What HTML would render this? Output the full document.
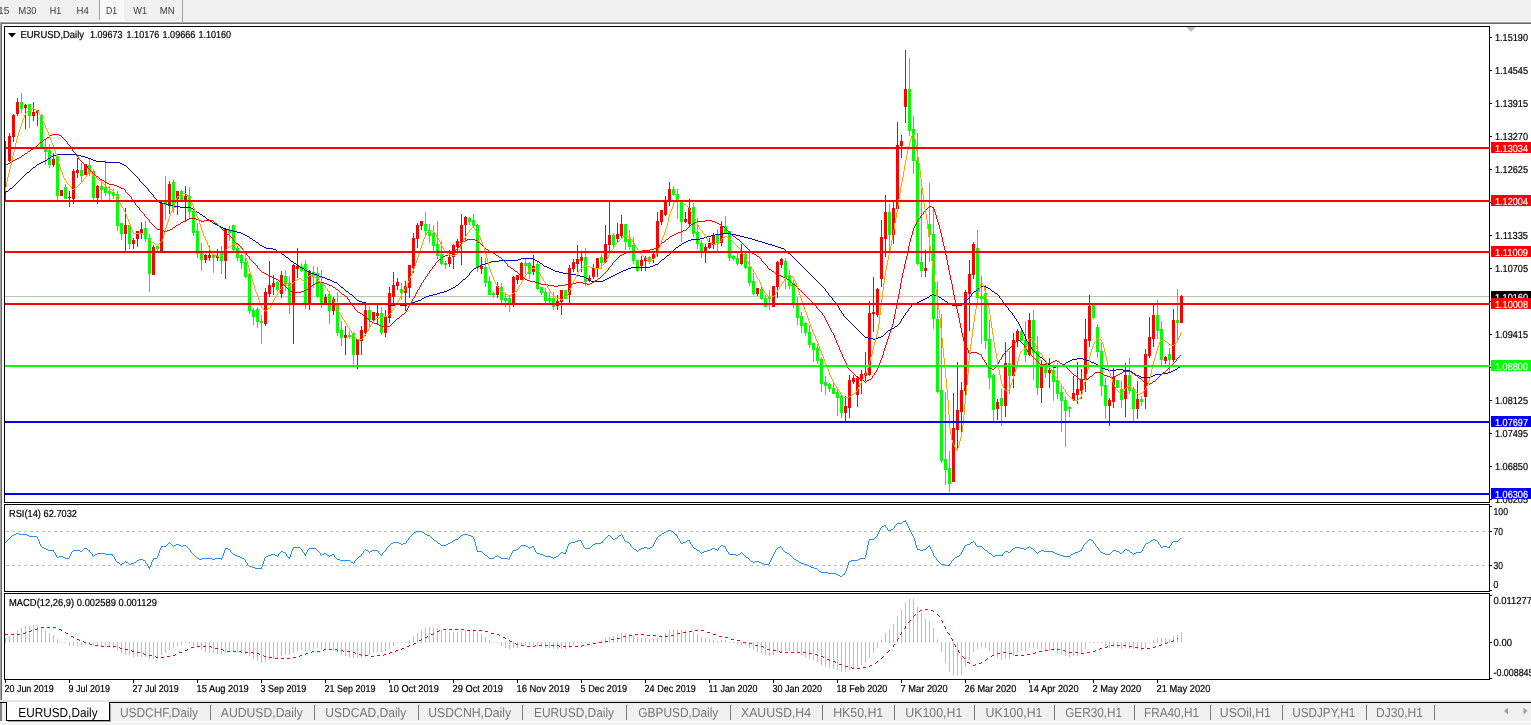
<!DOCTYPE html>
<html lang="en"><head><meta charset="utf-8"><title>EURUSD,Daily</title>
<style>html,body{margin:0;padding:0;background:#fff;overflow:hidden}body{width:1531px;height:725px}svg{display:block;font-family:"Liberation Sans",sans-serif;text-rendering:geometricPrecision}</style>
</head><body>
<svg width="1531" height="725" viewBox="0 0 1531 725" shape-rendering="crispEdges">
<rect x="0" y="0" width="1531" height="725" fill="#fff"/>
<g id="toolbar">
<rect x="0" y="0" width="1531" height="22" fill="#f0f0f0"/>
<rect x="0" y="21" width="1531" height="1" fill="#f6f6f6"/>
<rect x="0" y="22" width="1531" height="1" fill="#a0a0a0"/>
<rect x="0" y="23" width="1531" height="1" fill="#696969"/>
<rect x="100" y="0" width="24" height="20" fill="#f8f8f8"/>
<rect x="99" y="20" width="26" height="1" fill="#fcfcfc"/>
<rect x="99" y="0" width="1" height="20" fill="#a0a0a0"/>
<rect x="182" y="0" width="1" height="22" fill="#a0a0a0"/>
<text x="-10.5" y="14" font-size="10.2" fill="#3c3c3c">M15</text>
<text x="18.5" y="14" font-size="10.2" fill="#3c3c3c" textLength="18" lengthAdjust="spacingAndGlyphs">M30</text>
<text x="49.7" y="14" font-size="10.2" fill="#3c3c3c" textLength="11.5" lengthAdjust="spacingAndGlyphs">H1</text>
<text x="76.5" y="14" font-size="10.2" fill="#3c3c3c" textLength="12.3" lengthAdjust="spacingAndGlyphs">H4</text>
<text x="105.9" y="14" font-size="10.2" fill="#3c3c3c" textLength="11.2" lengthAdjust="spacingAndGlyphs">D1</text>
<text x="133.3" y="14" font-size="10.2" fill="#3c3c3c" textLength="13.8" lengthAdjust="spacingAndGlyphs">W1</text>
<text x="159.8" y="14" font-size="10.2" fill="#3c3c3c" textLength="14.8" lengthAdjust="spacingAndGlyphs">MN</text>
</g>
<rect x="0" y="22" width="1" height="678" fill="#a0a0a0"/>
<rect x="1" y="23" width="1" height="677" fill="#696969"/>
<g id="frames">
<rect x="4" y="26" width="1486" height="1" fill="#000"/>
<rect x="4" y="502" width="1486" height="1" fill="#000"/>
<rect x="4" y="26" width="1" height="477" fill="#000"/>
<rect x="1489" y="26" width="1" height="477" fill="#000"/>
<rect x="4" y="504" width="1486" height="1" fill="#000"/>
<rect x="4" y="591" width="1486" height="1" fill="#000"/>
<rect x="4" y="504" width="1" height="88" fill="#000"/>
<rect x="1489" y="504" width="1" height="88" fill="#000"/>
<rect x="4" y="593" width="1486" height="1" fill="#000"/>
<rect x="4" y="679" width="1486" height="1" fill="#000"/>
<rect x="4" y="593" width="1" height="87" fill="#000"/>
<rect x="1489" y="593" width="1" height="87" fill="#000"/>
</g>
<polygon points="1186,27 1196,27 1191,32" fill="#c0c0c0" shape-rendering="auto"/>
<g id="main">
<rect x="5" y="296" width="1484" height="1" fill="#c0c0c0"/>
<rect x="5" y="141" width="1" height="59" fill="#ff0000"/>
<rect x="5" y="141" width="1" height="59" fill="#ff0000"/>
<rect x="9" y="133" width="1" height="29" fill="#ff0000"/>
<rect x="8" y="136" width="3" height="25" fill="#ff0000"/>
<rect x="13" y="114" width="1" height="28" fill="#ff0000"/>
<rect x="12" y="115" width="3" height="22" fill="#ff0000"/>
<rect x="17" y="98" width="1" height="18" fill="#ff0000"/>
<rect x="16" y="102" width="3" height="12" fill="#ff0000"/>
<rect x="21" y="93" width="1" height="20" fill="#00ff00"/>
<rect x="20" y="102" width="3" height="7" fill="#00ff00"/>
<rect x="25" y="104" width="1" height="25" fill="#ff0000"/>
<rect x="24" y="105" width="3" height="3" fill="#ff0000"/>
<rect x="29" y="104" width="1" height="24" fill="#00ff00"/>
<rect x="28" y="104" width="3" height="12" fill="#00ff00"/>
<rect x="33" y="102" width="1" height="19" fill="#ff0000"/>
<rect x="32" y="112" width="3" height="4" fill="#ff0000"/>
<rect x="37" y="110" width="1" height="16" fill="#ff0000"/>
<rect x="36" y="110" width="3" height="3" fill="#ff0000"/>
<rect x="41" y="114" width="1" height="34" fill="#00ff00"/>
<rect x="40" y="115" width="3" height="32" fill="#00ff00"/>
<rect x="45" y="140" width="1" height="25" fill="#00ff00"/>
<rect x="44" y="148" width="3" height="4" fill="#00ff00"/>
<rect x="49" y="144" width="1" height="24" fill="#00ff00"/>
<rect x="48" y="150" width="3" height="15" fill="#00ff00"/>
<rect x="53" y="153" width="1" height="14" fill="#ff0000"/>
<rect x="52" y="159" width="3" height="6" fill="#ff0000"/>
<rect x="57" y="156" width="1" height="44" fill="#00ff00"/>
<rect x="56" y="156" width="3" height="40" fill="#00ff00"/>
<rect x="61" y="190" width="1" height="6" fill="#ff0000"/>
<rect x="60" y="190" width="3" height="6" fill="#ff0000"/>
<rect x="65" y="184" width="1" height="15" fill="#00ff00"/>
<rect x="64" y="187" width="3" height="12" fill="#00ff00"/>
<rect x="69" y="191" width="1" height="16" fill="#ff0000"/>
<rect x="68" y="197" width="3" height="1" fill="#ff0000"/>
<rect x="73" y="169" width="1" height="35" fill="#ff0000"/>
<rect x="72" y="171" width="3" height="28" fill="#ff0000"/>
<rect x="77" y="158" width="1" height="20" fill="#ff0000"/>
<rect x="76" y="170" width="3" height="3" fill="#ff0000"/>
<rect x="81" y="163" width="1" height="20" fill="#00ff00"/>
<rect x="80" y="170" width="3" height="6" fill="#00ff00"/>
<rect x="85" y="164" width="1" height="11" fill="#ff0000"/>
<rect x="84" y="164" width="3" height="11" fill="#ff0000"/>
<rect x="89" y="159" width="1" height="17" fill="#00ff00"/>
<rect x="88" y="165" width="3" height="7" fill="#00ff00"/>
<rect x="93" y="169" width="1" height="31" fill="#00ff00"/>
<rect x="92" y="171" width="3" height="27" fill="#00ff00"/>
<rect x="97" y="185" width="1" height="19" fill="#ff0000"/>
<rect x="96" y="186" width="3" height="12" fill="#ff0000"/>
<rect x="101" y="179" width="1" height="22" fill="#00ff00"/>
<rect x="100" y="186" width="3" height="4" fill="#00ff00"/>
<rect x="105" y="160" width="1" height="36" fill="#00ff00"/>
<rect x="104" y="187" width="3" height="6" fill="#00ff00"/>
<rect x="109" y="186" width="1" height="15" fill="#00ff00"/>
<rect x="108" y="191" width="3" height="3" fill="#00ff00"/>
<rect x="113" y="189" width="1" height="10" fill="#00ff00"/>
<rect x="112" y="192" width="3" height="4" fill="#00ff00"/>
<rect x="117" y="191" width="1" height="40" fill="#00ff00"/>
<rect x="116" y="194" width="3" height="32" fill="#00ff00"/>
<rect x="121" y="223" width="1" height="17" fill="#00ff00"/>
<rect x="120" y="223" width="3" height="11" fill="#00ff00"/>
<rect x="125" y="208" width="1" height="44" fill="#ff0000"/>
<rect x="124" y="225" width="3" height="9" fill="#ff0000"/>
<rect x="129" y="225" width="1" height="24" fill="#00ff00"/>
<rect x="128" y="225" width="3" height="19" fill="#00ff00"/>
<rect x="133" y="238" width="1" height="11" fill="#ff0000"/>
<rect x="132" y="240" width="3" height="4" fill="#ff0000"/>
<rect x="137" y="231" width="1" height="16" fill="#ff0000"/>
<rect x="136" y="231" width="3" height="8" fill="#ff0000"/>
<rect x="141" y="222" width="1" height="17" fill="#ff0000"/>
<rect x="140" y="229" width="3" height="4" fill="#ff0000"/>
<rect x="145" y="221" width="1" height="21" fill="#00ff00"/>
<rect x="144" y="228" width="3" height="11" fill="#00ff00"/>
<rect x="149" y="234" width="1" height="58" fill="#00ff00"/>
<rect x="148" y="238" width="3" height="36" fill="#00ff00"/>
<rect x="153" y="245" width="1" height="30" fill="#ff0000"/>
<rect x="152" y="247" width="3" height="28" fill="#ff0000"/>
<rect x="157" y="245" width="1" height="7" fill="#00ff00"/>
<rect x="156" y="246" width="3" height="3" fill="#00ff00"/>
<rect x="161" y="202" width="1" height="51" fill="#ff0000"/>
<rect x="160" y="203" width="3" height="49" fill="#ff0000"/>
<rect x="165" y="176" width="1" height="44" fill="#00ff00"/>
<rect x="164" y="202" width="3" height="3" fill="#00ff00"/>
<rect x="169" y="181" width="1" height="33" fill="#ff0000"/>
<rect x="168" y="184" width="3" height="22" fill="#ff0000"/>
<rect x="173" y="180" width="1" height="33" fill="#00ff00"/>
<rect x="172" y="182" width="3" height="26" fill="#00ff00"/>
<rect x="177" y="191" width="1" height="24" fill="#ff0000"/>
<rect x="176" y="191" width="3" height="8" fill="#ff0000"/>
<rect x="181" y="190" width="1" height="11" fill="#00ff00"/>
<rect x="180" y="191" width="3" height="10" fill="#00ff00"/>
<rect x="185" y="186" width="1" height="36" fill="#ff0000"/>
<rect x="184" y="196" width="3" height="5" fill="#ff0000"/>
<rect x="189" y="187" width="1" height="32" fill="#00ff00"/>
<rect x="188" y="196" width="3" height="16" fill="#00ff00"/>
<rect x="193" y="210" width="1" height="26" fill="#00ff00"/>
<rect x="192" y="211" width="3" height="22" fill="#00ff00"/>
<rect x="197" y="223" width="1" height="35" fill="#00ff00"/>
<rect x="196" y="231" width="3" height="23" fill="#00ff00"/>
<rect x="201" y="243" width="1" height="28" fill="#00ff00"/>
<rect x="200" y="252" width="3" height="8" fill="#00ff00"/>
<rect x="205" y="254" width="1" height="9" fill="#ff0000"/>
<rect x="204" y="255" width="3" height="5" fill="#ff0000"/>
<rect x="209" y="246" width="1" height="15" fill="#ff0000"/>
<rect x="208" y="255" width="3" height="3" fill="#ff0000"/>
<rect x="213" y="254" width="1" height="19" fill="#00ff00"/>
<rect x="212" y="255" width="3" height="3" fill="#00ff00"/>
<rect x="217" y="249" width="1" height="12" fill="#ff0000"/>
<rect x="216" y="256" width="3" height="2" fill="#ff0000"/>
<rect x="221" y="246" width="1" height="28" fill="#00ff00"/>
<rect x="220" y="252" width="3" height="9" fill="#00ff00"/>
<rect x="225" y="228" width="1" height="51" fill="#ff0000"/>
<rect x="224" y="229" width="3" height="32" fill="#ff0000"/>
<rect x="229" y="226" width="1" height="15" fill="#00ff00"/>
<rect x="228" y="230" width="3" height="3" fill="#00ff00"/>
<rect x="233" y="225" width="1" height="26" fill="#00ff00"/>
<rect x="232" y="225" width="3" height="25" fill="#00ff00"/>
<rect x="237" y="246" width="1" height="15" fill="#00ff00"/>
<rect x="236" y="248" width="3" height="10" fill="#00ff00"/>
<rect x="241" y="254" width="1" height="15" fill="#00ff00"/>
<rect x="240" y="255" width="3" height="8" fill="#00ff00"/>
<rect x="245" y="253" width="1" height="25" fill="#00ff00"/>
<rect x="244" y="262" width="3" height="15" fill="#00ff00"/>
<rect x="249" y="273" width="1" height="41" fill="#00ff00"/>
<rect x="248" y="274" width="3" height="37" fill="#00ff00"/>
<rect x="253" y="308" width="1" height="17" fill="#00ff00"/>
<rect x="252" y="310" width="3" height="7" fill="#00ff00"/>
<rect x="257" y="307" width="1" height="21" fill="#00ff00"/>
<rect x="256" y="309" width="3" height="13" fill="#00ff00"/>
<rect x="261" y="315" width="1" height="29" fill="#00ff00"/>
<rect x="260" y="321" width="3" height="2" fill="#00ff00"/>
<rect x="265" y="288" width="1" height="38" fill="#ff0000"/>
<rect x="264" y="292" width="3" height="32" fill="#ff0000"/>
<rect x="269" y="261" width="1" height="36" fill="#ff0000"/>
<rect x="268" y="285" width="3" height="9" fill="#ff0000"/>
<rect x="273" y="275" width="1" height="20" fill="#ff0000"/>
<rect x="272" y="283" width="3" height="4" fill="#ff0000"/>
<rect x="277" y="281" width="1" height="11" fill="#00ff00"/>
<rect x="276" y="282" width="3" height="8" fill="#00ff00"/>
<rect x="281" y="271" width="1" height="27" fill="#ff0000"/>
<rect x="280" y="275" width="3" height="19" fill="#ff0000"/>
<rect x="285" y="270" width="1" height="21" fill="#00ff00"/>
<rect x="284" y="276" width="3" height="8" fill="#00ff00"/>
<rect x="289" y="276" width="1" height="38" fill="#00ff00"/>
<rect x="288" y="283" width="3" height="21" fill="#00ff00"/>
<rect x="293" y="264" width="1" height="80" fill="#ff0000"/>
<rect x="292" y="265" width="3" height="39" fill="#ff0000"/>
<rect x="297" y="248" width="1" height="30" fill="#ff0000"/>
<rect x="296" y="266" width="3" height="3" fill="#ff0000"/>
<rect x="301" y="263" width="1" height="9" fill="#00ff00"/>
<rect x="300" y="266" width="3" height="5" fill="#00ff00"/>
<rect x="305" y="260" width="1" height="49" fill="#00ff00"/>
<rect x="304" y="264" width="3" height="39" fill="#00ff00"/>
<rect x="309" y="270" width="1" height="40" fill="#ff0000"/>
<rect x="308" y="271" width="3" height="32" fill="#ff0000"/>
<rect x="313" y="266" width="1" height="22" fill="#00ff00"/>
<rect x="312" y="272" width="3" height="4" fill="#00ff00"/>
<rect x="317" y="267" width="1" height="31" fill="#00ff00"/>
<rect x="316" y="273" width="3" height="24" fill="#00ff00"/>
<rect x="321" y="270" width="1" height="38" fill="#00ff00"/>
<rect x="320" y="282" width="3" height="22" fill="#00ff00"/>
<rect x="325" y="294" width="1" height="11" fill="#ff0000"/>
<rect x="324" y="297" width="3" height="8" fill="#ff0000"/>
<rect x="329" y="291" width="1" height="33" fill="#00ff00"/>
<rect x="328" y="294" width="3" height="17" fill="#00ff00"/>
<rect x="333" y="297" width="1" height="18" fill="#ff0000"/>
<rect x="332" y="299" width="3" height="12" fill="#ff0000"/>
<rect x="337" y="292" width="1" height="44" fill="#00ff00"/>
<rect x="336" y="305" width="3" height="28" fill="#00ff00"/>
<rect x="341" y="321" width="1" height="25" fill="#00ff00"/>
<rect x="340" y="330" width="3" height="8" fill="#00ff00"/>
<rect x="345" y="326" width="1" height="29" fill="#ff0000"/>
<rect x="344" y="335" width="3" height="3" fill="#ff0000"/>
<rect x="349" y="331" width="1" height="8" fill="#00ff00"/>
<rect x="348" y="335" width="3" height="2" fill="#00ff00"/>
<rect x="353" y="332" width="1" height="34" fill="#00ff00"/>
<rect x="352" y="333" width="3" height="22" fill="#00ff00"/>
<rect x="357" y="339" width="1" height="30" fill="#ff0000"/>
<rect x="356" y="339" width="3" height="16" fill="#ff0000"/>
<rect x="361" y="326" width="1" height="29" fill="#ff0000"/>
<rect x="360" y="330" width="3" height="11" fill="#ff0000"/>
<rect x="365" y="304" width="1" height="32" fill="#ff0000"/>
<rect x="364" y="310" width="3" height="23" fill="#ff0000"/>
<rect x="369" y="306" width="1" height="23" fill="#00ff00"/>
<rect x="368" y="310" width="3" height="10" fill="#00ff00"/>
<rect x="373" y="312" width="1" height="9" fill="#ff0000"/>
<rect x="372" y="312" width="3" height="8" fill="#ff0000"/>
<rect x="377" y="304" width="1" height="21" fill="#ff0000"/>
<rect x="376" y="313" width="3" height="3" fill="#ff0000"/>
<rect x="381" y="307" width="1" height="28" fill="#00ff00"/>
<rect x="380" y="313" width="3" height="20" fill="#00ff00"/>
<rect x="385" y="310" width="1" height="27" fill="#ff0000"/>
<rect x="384" y="317" width="3" height="16" fill="#ff0000"/>
<rect x="389" y="287" width="1" height="36" fill="#ff0000"/>
<rect x="388" y="293" width="3" height="25" fill="#ff0000"/>
<rect x="393" y="272" width="1" height="31" fill="#ff0000"/>
<rect x="392" y="285" width="3" height="12" fill="#ff0000"/>
<rect x="397" y="278" width="1" height="12" fill="#ff0000"/>
<rect x="396" y="282" width="3" height="4" fill="#ff0000"/>
<rect x="401" y="283" width="1" height="17" fill="#00ff00"/>
<rect x="400" y="289" width="3" height="4" fill="#00ff00"/>
<rect x="405" y="281" width="1" height="30" fill="#ff0000"/>
<rect x="404" y="286" width="3" height="7" fill="#ff0000"/>
<rect x="409" y="265" width="1" height="33" fill="#ff0000"/>
<rect x="408" y="265" width="3" height="23" fill="#ff0000"/>
<rect x="413" y="233" width="1" height="40" fill="#ff0000"/>
<rect x="412" y="238" width="3" height="30" fill="#ff0000"/>
<rect x="417" y="223" width="1" height="25" fill="#ff0000"/>
<rect x="416" y="225" width="3" height="14" fill="#ff0000"/>
<rect x="421" y="221" width="1" height="9" fill="#ff0000"/>
<rect x="420" y="221" width="3" height="5" fill="#ff0000"/>
<rect x="425" y="212" width="1" height="23" fill="#00ff00"/>
<rect x="424" y="224" width="3" height="7" fill="#00ff00"/>
<rect x="429" y="224" width="1" height="19" fill="#00ff00"/>
<rect x="428" y="230" width="3" height="6" fill="#00ff00"/>
<rect x="433" y="225" width="1" height="27" fill="#00ff00"/>
<rect x="432" y="233" width="3" height="13" fill="#00ff00"/>
<rect x="437" y="221" width="1" height="38" fill="#00ff00"/>
<rect x="436" y="244" width="3" height="12" fill="#00ff00"/>
<rect x="441" y="241" width="1" height="24" fill="#00ff00"/>
<rect x="440" y="254" width="3" height="10" fill="#00ff00"/>
<rect x="445" y="261" width="1" height="8" fill="#00ff00"/>
<rect x="444" y="263" width="3" height="2" fill="#00ff00"/>
<rect x="449" y="250" width="1" height="17" fill="#ff0000"/>
<rect x="448" y="257" width="3" height="7" fill="#ff0000"/>
<rect x="453" y="244" width="1" height="25" fill="#ff0000"/>
<rect x="452" y="245" width="3" height="12" fill="#ff0000"/>
<rect x="457" y="239" width="1" height="12" fill="#ff0000"/>
<rect x="456" y="241" width="3" height="6" fill="#ff0000"/>
<rect x="461" y="214" width="1" height="51" fill="#ff0000"/>
<rect x="460" y="225" width="3" height="18" fill="#ff0000"/>
<rect x="465" y="216" width="1" height="25" fill="#ff0000"/>
<rect x="464" y="217" width="3" height="8" fill="#ff0000"/>
<rect x="469" y="217" width="1" height="8" fill="#00ff00"/>
<rect x="468" y="218" width="3" height="4" fill="#00ff00"/>
<rect x="473" y="214" width="1" height="13" fill="#00ff00"/>
<rect x="472" y="220" width="3" height="6" fill="#00ff00"/>
<rect x="477" y="224" width="1" height="48" fill="#00ff00"/>
<rect x="476" y="225" width="3" height="43" fill="#00ff00"/>
<rect x="481" y="257" width="1" height="17" fill="#ff0000"/>
<rect x="480" y="266" width="3" height="3" fill="#ff0000"/>
<rect x="485" y="258" width="1" height="29" fill="#00ff00"/>
<rect x="484" y="267" width="3" height="16" fill="#00ff00"/>
<rect x="489" y="276" width="1" height="19" fill="#00ff00"/>
<rect x="488" y="281" width="3" height="14" fill="#00ff00"/>
<rect x="493" y="292" width="1" height="6" fill="#00ff00"/>
<rect x="492" y="293" width="3" height="2" fill="#00ff00"/>
<rect x="497" y="282" width="1" height="16" fill="#ff0000"/>
<rect x="496" y="286" width="3" height="9" fill="#ff0000"/>
<rect x="501" y="283" width="1" height="21" fill="#00ff00"/>
<rect x="500" y="287" width="3" height="13" fill="#00ff00"/>
<rect x="505" y="294" width="1" height="13" fill="#00ff00"/>
<rect x="504" y="298" width="3" height="3" fill="#00ff00"/>
<rect x="509" y="296" width="1" height="16" fill="#00ff00"/>
<rect x="508" y="298" width="3" height="6" fill="#00ff00"/>
<rect x="513" y="276" width="1" height="31" fill="#ff0000"/>
<rect x="512" y="277" width="3" height="28" fill="#ff0000"/>
<rect x="517" y="275" width="1" height="9" fill="#ff0000"/>
<rect x="516" y="275" width="3" height="5" fill="#ff0000"/>
<rect x="521" y="262" width="1" height="18" fill="#ff0000"/>
<rect x="520" y="263" width="3" height="17" fill="#ff0000"/>
<rect x="525" y="258" width="1" height="16" fill="#00ff00"/>
<rect x="524" y="263" width="3" height="3" fill="#00ff00"/>
<rect x="529" y="262" width="1" height="17" fill="#00ff00"/>
<rect x="528" y="263" width="3" height="11" fill="#00ff00"/>
<rect x="533" y="255" width="1" height="20" fill="#ff0000"/>
<rect x="532" y="266" width="3" height="6" fill="#ff0000"/>
<rect x="537" y="261" width="1" height="29" fill="#00ff00"/>
<rect x="536" y="264" width="3" height="25" fill="#00ff00"/>
<rect x="541" y="287" width="1" height="8" fill="#00ff00"/>
<rect x="540" y="287" width="3" height="6" fill="#00ff00"/>
<rect x="545" y="288" width="1" height="16" fill="#00ff00"/>
<rect x="544" y="292" width="3" height="9" fill="#00ff00"/>
<rect x="549" y="292" width="1" height="12" fill="#00ff00"/>
<rect x="548" y="298" width="3" height="3" fill="#00ff00"/>
<rect x="553" y="292" width="1" height="18" fill="#00ff00"/>
<rect x="552" y="298" width="3" height="9" fill="#00ff00"/>
<rect x="557" y="295" width="1" height="15" fill="#ff0000"/>
<rect x="556" y="301" width="3" height="5" fill="#ff0000"/>
<rect x="561" y="290" width="1" height="25" fill="#ff0000"/>
<rect x="560" y="290" width="3" height="12" fill="#ff0000"/>
<rect x="565" y="290" width="1" height="9" fill="#00ff00"/>
<rect x="564" y="290" width="3" height="9" fill="#00ff00"/>
<rect x="569" y="265" width="1" height="39" fill="#ff0000"/>
<rect x="568" y="268" width="3" height="27" fill="#ff0000"/>
<rect x="573" y="259" width="1" height="13" fill="#ff0000"/>
<rect x="572" y="262" width="3" height="7" fill="#ff0000"/>
<rect x="577" y="245" width="1" height="27" fill="#ff0000"/>
<rect x="576" y="259" width="3" height="5" fill="#ff0000"/>
<rect x="581" y="253" width="1" height="19" fill="#ff0000"/>
<rect x="580" y="257" width="3" height="4" fill="#ff0000"/>
<rect x="585" y="248" width="1" height="38" fill="#00ff00"/>
<rect x="584" y="257" width="3" height="25" fill="#00ff00"/>
<rect x="589" y="275" width="1" height="7" fill="#ff0000"/>
<rect x="588" y="278" width="3" height="3" fill="#ff0000"/>
<rect x="593" y="264" width="1" height="15" fill="#ff0000"/>
<rect x="592" y="268" width="3" height="9" fill="#ff0000"/>
<rect x="597" y="258" width="1" height="19" fill="#ff0000"/>
<rect x="596" y="258" width="3" height="11" fill="#ff0000"/>
<rect x="601" y="254" width="1" height="15" fill="#00ff00"/>
<rect x="600" y="257" width="3" height="6" fill="#00ff00"/>
<rect x="605" y="225" width="1" height="38" fill="#ff0000"/>
<rect x="604" y="244" width="3" height="18" fill="#ff0000"/>
<rect x="609" y="202" width="1" height="51" fill="#ff0000"/>
<rect x="608" y="235" width="3" height="10" fill="#ff0000"/>
<rect x="613" y="233" width="1" height="16" fill="#00ff00"/>
<rect x="612" y="235" width="3" height="10" fill="#00ff00"/>
<rect x="617" y="223" width="1" height="19" fill="#ff0000"/>
<rect x="616" y="234" width="3" height="5" fill="#ff0000"/>
<rect x="621" y="215" width="1" height="24" fill="#ff0000"/>
<rect x="620" y="224" width="3" height="12" fill="#ff0000"/>
<rect x="625" y="224" width="1" height="26" fill="#00ff00"/>
<rect x="624" y="224" width="3" height="18" fill="#00ff00"/>
<rect x="629" y="230" width="1" height="20" fill="#00ff00"/>
<rect x="628" y="239" width="3" height="8" fill="#00ff00"/>
<rect x="633" y="237" width="1" height="27" fill="#00ff00"/>
<rect x="632" y="245" width="3" height="16" fill="#00ff00"/>
<rect x="637" y="260" width="1" height="12" fill="#00ff00"/>
<rect x="636" y="260" width="3" height="11" fill="#00ff00"/>
<rect x="641" y="256" width="1" height="15" fill="#ff0000"/>
<rect x="640" y="260" width="3" height="6" fill="#ff0000"/>
<rect x="645" y="256" width="1" height="15" fill="#ff0000"/>
<rect x="644" y="258" width="3" height="3" fill="#ff0000"/>
<rect x="649" y="256" width="1" height="8" fill="#00ff00"/>
<rect x="648" y="257" width="3" height="5" fill="#00ff00"/>
<rect x="653" y="253" width="1" height="10" fill="#ff0000"/>
<rect x="652" y="254" width="3" height="5" fill="#ff0000"/>
<rect x="657" y="212" width="1" height="45" fill="#ff0000"/>
<rect x="656" y="221" width="3" height="31" fill="#ff0000"/>
<rect x="661" y="210" width="1" height="15" fill="#ff0000"/>
<rect x="660" y="210" width="3" height="12" fill="#ff0000"/>
<rect x="665" y="196" width="1" height="20" fill="#ff0000"/>
<rect x="664" y="201" width="3" height="14" fill="#ff0000"/>
<rect x="669" y="182" width="1" height="24" fill="#ff0000"/>
<rect x="668" y="189" width="3" height="13" fill="#ff0000"/>
<rect x="673" y="186" width="1" height="10" fill="#00ff00"/>
<rect x="672" y="189" width="3" height="6" fill="#00ff00"/>
<rect x="677" y="189" width="1" height="30" fill="#00ff00"/>
<rect x="676" y="194" width="3" height="6" fill="#00ff00"/>
<rect x="681" y="202" width="1" height="40" fill="#00ff00"/>
<rect x="680" y="202" width="3" height="20" fill="#00ff00"/>
<rect x="685" y="212" width="1" height="11" fill="#ff0000"/>
<rect x="684" y="219" width="3" height="3" fill="#ff0000"/>
<rect x="689" y="199" width="1" height="27" fill="#ff0000"/>
<rect x="688" y="208" width="3" height="16" fill="#ff0000"/>
<rect x="693" y="203" width="1" height="34" fill="#00ff00"/>
<rect x="692" y="207" width="3" height="27" fill="#00ff00"/>
<rect x="697" y="218" width="1" height="31" fill="#00ff00"/>
<rect x="696" y="232" width="3" height="12" fill="#00ff00"/>
<rect x="701" y="240" width="1" height="18" fill="#00ff00"/>
<rect x="700" y="243" width="3" height="9" fill="#00ff00"/>
<rect x="705" y="244" width="1" height="19" fill="#ff0000"/>
<rect x="704" y="247" width="3" height="6" fill="#ff0000"/>
<rect x="709" y="238" width="1" height="11" fill="#ff0000"/>
<rect x="708" y="243" width="3" height="5" fill="#ff0000"/>
<rect x="713" y="233" width="1" height="16" fill="#ff0000"/>
<rect x="712" y="236" width="3" height="9" fill="#ff0000"/>
<rect x="717" y="229" width="1" height="23" fill="#00ff00"/>
<rect x="716" y="235" width="3" height="9" fill="#00ff00"/>
<rect x="721" y="221" width="1" height="25" fill="#ff0000"/>
<rect x="720" y="226" width="3" height="17" fill="#ff0000"/>
<rect x="725" y="216" width="1" height="18" fill="#00ff00"/>
<rect x="724" y="226" width="3" height="7" fill="#00ff00"/>
<rect x="729" y="231" width="1" height="30" fill="#00ff00"/>
<rect x="728" y="231" width="3" height="27" fill="#00ff00"/>
<rect x="733" y="255" width="1" height="6" fill="#00ff00"/>
<rect x="732" y="256" width="3" height="3" fill="#00ff00"/>
<rect x="737" y="253" width="1" height="13" fill="#00ff00"/>
<rect x="736" y="258" width="3" height="6" fill="#00ff00"/>
<rect x="741" y="244" width="1" height="21" fill="#ff0000"/>
<rect x="740" y="254" width="3" height="10" fill="#ff0000"/>
<rect x="745" y="253" width="1" height="16" fill="#00ff00"/>
<rect x="744" y="254" width="3" height="14" fill="#00ff00"/>
<rect x="749" y="249" width="1" height="37" fill="#00ff00"/>
<rect x="748" y="267" width="3" height="16" fill="#00ff00"/>
<rect x="753" y="273" width="1" height="22" fill="#00ff00"/>
<rect x="752" y="281" width="3" height="13" fill="#00ff00"/>
<rect x="757" y="288" width="1" height="8" fill="#ff0000"/>
<rect x="756" y="288" width="3" height="6" fill="#ff0000"/>
<rect x="761" y="287" width="1" height="13" fill="#00ff00"/>
<rect x="760" y="289" width="3" height="10" fill="#00ff00"/>
<rect x="765" y="295" width="1" height="12" fill="#00ff00"/>
<rect x="764" y="298" width="3" height="9" fill="#00ff00"/>
<rect x="769" y="290" width="1" height="20" fill="#00ff00"/>
<rect x="768" y="297" width="3" height="2" fill="#00ff00"/>
<rect x="773" y="286" width="1" height="21" fill="#ff0000"/>
<rect x="772" y="286" width="3" height="21" fill="#ff0000"/>
<rect x="777" y="261" width="1" height="37" fill="#ff0000"/>
<rect x="776" y="262" width="3" height="25" fill="#ff0000"/>
<rect x="781" y="258" width="1" height="10" fill="#ff0000"/>
<rect x="780" y="259" width="3" height="6" fill="#ff0000"/>
<rect x="785" y="258" width="1" height="31" fill="#00ff00"/>
<rect x="784" y="261" width="3" height="17" fill="#00ff00"/>
<rect x="789" y="270" width="1" height="19" fill="#00ff00"/>
<rect x="788" y="276" width="3" height="10" fill="#00ff00"/>
<rect x="793" y="280" width="1" height="28" fill="#00ff00"/>
<rect x="792" y="283" width="3" height="21" fill="#00ff00"/>
<rect x="797" y="297" width="1" height="28" fill="#00ff00"/>
<rect x="796" y="304" width="3" height="14" fill="#00ff00"/>
<rect x="801" y="312" width="1" height="21" fill="#00ff00"/>
<rect x="800" y="316" width="3" height="10" fill="#00ff00"/>
<rect x="805" y="322" width="1" height="14" fill="#00ff00"/>
<rect x="804" y="323" width="3" height="10" fill="#00ff00"/>
<rect x="809" y="325" width="1" height="23" fill="#00ff00"/>
<rect x="808" y="332" width="3" height="13" fill="#00ff00"/>
<rect x="813" y="343" width="1" height="19" fill="#00ff00"/>
<rect x="812" y="343" width="3" height="7" fill="#00ff00"/>
<rect x="817" y="344" width="1" height="20" fill="#00ff00"/>
<rect x="816" y="348" width="3" height="13" fill="#00ff00"/>
<rect x="821" y="357" width="1" height="35" fill="#00ff00"/>
<rect x="820" y="359" width="3" height="25" fill="#00ff00"/>
<rect x="825" y="376" width="1" height="19" fill="#00ff00"/>
<rect x="824" y="382" width="3" height="4" fill="#00ff00"/>
<rect x="829" y="383" width="1" height="9" fill="#00ff00"/>
<rect x="828" y="384" width="3" height="5" fill="#00ff00"/>
<rect x="833" y="382" width="1" height="12" fill="#00ff00"/>
<rect x="832" y="388" width="3" height="6" fill="#00ff00"/>
<rect x="837" y="389" width="1" height="27" fill="#00ff00"/>
<rect x="836" y="392" width="3" height="6" fill="#00ff00"/>
<rect x="841" y="394" width="1" height="24" fill="#00ff00"/>
<rect x="840" y="396" width="3" height="17" fill="#00ff00"/>
<rect x="845" y="396" width="1" height="25" fill="#ff0000"/>
<rect x="844" y="406" width="3" height="7" fill="#ff0000"/>
<rect x="849" y="375" width="1" height="43" fill="#ff0000"/>
<rect x="848" y="380" width="3" height="28" fill="#ff0000"/>
<rect x="853" y="375" width="1" height="9" fill="#ff0000"/>
<rect x="852" y="378" width="3" height="4" fill="#ff0000"/>
<rect x="857" y="376" width="1" height="31" fill="#ff0000"/>
<rect x="856" y="378" width="3" height="17" fill="#ff0000"/>
<rect x="861" y="370" width="1" height="24" fill="#ff0000"/>
<rect x="860" y="374" width="3" height="7" fill="#ff0000"/>
<rect x="865" y="352" width="1" height="29" fill="#ff0000"/>
<rect x="864" y="373" width="3" height="3" fill="#ff0000"/>
<rect x="869" y="301" width="1" height="75" fill="#ff0000"/>
<rect x="868" y="313" width="3" height="62" fill="#ff0000"/>
<rect x="873" y="277" width="1" height="55" fill="#ff0000"/>
<rect x="872" y="312" width="3" height="2" fill="#ff0000"/>
<rect x="877" y="288" width="1" height="29" fill="#ff0000"/>
<rect x="876" y="289" width="3" height="26" fill="#ff0000"/>
<rect x="881" y="220" width="1" height="67" fill="#ff0000"/>
<rect x="880" y="237" width="3" height="42" fill="#ff0000"/>
<rect x="885" y="195" width="1" height="62" fill="#ff0000"/>
<rect x="884" y="212" width="3" height="27" fill="#ff0000"/>
<rect x="889" y="204" width="1" height="51" fill="#00ff00"/>
<rect x="888" y="212" width="3" height="23" fill="#00ff00"/>
<rect x="893" y="200" width="1" height="44" fill="#ff0000"/>
<rect x="892" y="208" width="3" height="27" fill="#ff0000"/>
<rect x="897" y="122" width="1" height="88" fill="#ff0000"/>
<rect x="896" y="145" width="3" height="64" fill="#ff0000"/>
<rect x="901" y="135" width="1" height="23" fill="#ff0000"/>
<rect x="900" y="141" width="3" height="5" fill="#ff0000"/>
<rect x="905" y="50" width="1" height="73" fill="#ff0000"/>
<rect x="904" y="89" width="3" height="18" fill="#ff0000"/>
<rect x="909" y="58" width="1" height="78" fill="#00ff00"/>
<rect x="908" y="89" width="3" height="42" fill="#00ff00"/>
<rect x="913" y="116" width="1" height="58" fill="#00ff00"/>
<rect x="912" y="129" width="3" height="32" fill="#00ff00"/>
<rect x="917" y="133" width="1" height="132" fill="#00ff00"/>
<rect x="916" y="160" width="3" height="104" fill="#00ff00"/>
<rect x="921" y="188" width="1" height="89" fill="#00ff00"/>
<rect x="920" y="262" width="3" height="9" fill="#00ff00"/>
<rect x="925" y="250" width="1" height="27" fill="#ff0000"/>
<rect x="924" y="268" width="3" height="3" fill="#ff0000"/>
<rect x="929" y="183" width="1" height="79" fill="#00ff00"/>
<rect x="928" y="224" width="3" height="11" fill="#00ff00"/>
<rect x="933" y="207" width="1" height="122" fill="#00ff00"/>
<rect x="932" y="234" width="3" height="85" fill="#00ff00"/>
<rect x="937" y="281" width="1" height="112" fill="#00ff00"/>
<rect x="936" y="319" width="3" height="73" fill="#00ff00"/>
<rect x="941" y="314" width="1" height="149" fill="#00ff00"/>
<rect x="940" y="390" width="3" height="71" fill="#00ff00"/>
<rect x="945" y="392" width="1" height="93" fill="#00ff00"/>
<rect x="944" y="459" width="3" height="11" fill="#00ff00"/>
<rect x="949" y="451" width="1" height="41" fill="#00ff00"/>
<rect x="948" y="468" width="3" height="16" fill="#00ff00"/>
<rect x="953" y="393" width="1" height="89" fill="#ff0000"/>
<rect x="952" y="428" width="3" height="54" fill="#ff0000"/>
<rect x="957" y="362" width="1" height="86" fill="#ff0000"/>
<rect x="956" y="410" width="3" height="20" fill="#ff0000"/>
<rect x="961" y="382" width="1" height="51" fill="#ff0000"/>
<rect x="960" y="390" width="3" height="22" fill="#ff0000"/>
<rect x="965" y="290" width="1" height="105" fill="#ff0000"/>
<rect x="964" y="292" width="3" height="99" fill="#ff0000"/>
<rect x="969" y="260" width="1" height="71" fill="#ff0000"/>
<rect x="968" y="274" width="3" height="20" fill="#ff0000"/>
<rect x="973" y="242" width="1" height="37" fill="#ff0000"/>
<rect x="972" y="244" width="3" height="31" fill="#ff0000"/>
<rect x="977" y="230" width="1" height="68" fill="#00ff00"/>
<rect x="976" y="248" width="3" height="50" fill="#00ff00"/>
<rect x="981" y="276" width="1" height="68" fill="#00ff00"/>
<rect x="980" y="296" width="3" height="3" fill="#00ff00"/>
<rect x="985" y="285" width="1" height="64" fill="#00ff00"/>
<rect x="984" y="293" width="3" height="48" fill="#00ff00"/>
<rect x="989" y="320" width="1" height="69" fill="#00ff00"/>
<rect x="988" y="339" width="3" height="39" fill="#00ff00"/>
<rect x="993" y="374" width="1" height="48" fill="#00ff00"/>
<rect x="992" y="375" width="3" height="35" fill="#00ff00"/>
<rect x="997" y="399" width="1" height="21" fill="#ff0000"/>
<rect x="996" y="402" width="3" height="7" fill="#ff0000"/>
<rect x="1001" y="389" width="1" height="37" fill="#00ff00"/>
<rect x="1000" y="398" width="3" height="8" fill="#00ff00"/>
<rect x="1005" y="342" width="1" height="75" fill="#ff0000"/>
<rect x="1004" y="363" width="3" height="43" fill="#ff0000"/>
<rect x="1009" y="351" width="1" height="43" fill="#00ff00"/>
<rect x="1008" y="363" width="3" height="13" fill="#00ff00"/>
<rect x="1013" y="333" width="1" height="55" fill="#ff0000"/>
<rect x="1012" y="340" width="3" height="36" fill="#ff0000"/>
<rect x="1017" y="329" width="1" height="18" fill="#ff0000"/>
<rect x="1016" y="331" width="3" height="10" fill="#ff0000"/>
<rect x="1021" y="330" width="1" height="11" fill="#00ff00"/>
<rect x="1020" y="331" width="3" height="10" fill="#00ff00"/>
<rect x="1025" y="321" width="1" height="41" fill="#00ff00"/>
<rect x="1024" y="340" width="3" height="15" fill="#00ff00"/>
<rect x="1029" y="313" width="1" height="43" fill="#ff0000"/>
<rect x="1028" y="320" width="3" height="35" fill="#ff0000"/>
<rect x="1033" y="310" width="1" height="70" fill="#00ff00"/>
<rect x="1032" y="320" width="3" height="33" fill="#00ff00"/>
<rect x="1037" y="336" width="1" height="59" fill="#00ff00"/>
<rect x="1036" y="351" width="3" height="37" fill="#00ff00"/>
<rect x="1041" y="360" width="1" height="43" fill="#ff0000"/>
<rect x="1040" y="365" width="3" height="23" fill="#ff0000"/>
<rect x="1045" y="363" width="1" height="15" fill="#00ff00"/>
<rect x="1044" y="364" width="3" height="9" fill="#00ff00"/>
<rect x="1049" y="358" width="1" height="30" fill="#ff0000"/>
<rect x="1048" y="370" width="3" height="3" fill="#ff0000"/>
<rect x="1053" y="364" width="1" height="37" fill="#00ff00"/>
<rect x="1052" y="370" width="3" height="12" fill="#00ff00"/>
<rect x="1057" y="363" width="1" height="36" fill="#00ff00"/>
<rect x="1056" y="380" width="3" height="14" fill="#00ff00"/>
<rect x="1061" y="384" width="1" height="48" fill="#00ff00"/>
<rect x="1060" y="392" width="3" height="9" fill="#00ff00"/>
<rect x="1065" y="397" width="1" height="50" fill="#00ff00"/>
<rect x="1064" y="400" width="3" height="11" fill="#00ff00"/>
<rect x="1069" y="406" width="1" height="11" fill="#00ff00"/>
<rect x="1068" y="407" width="3" height="2" fill="#00ff00"/>
<rect x="1073" y="376" width="1" height="25" fill="#ff0000"/>
<rect x="1072" y="393" width="3" height="7" fill="#ff0000"/>
<rect x="1077" y="362" width="1" height="42" fill="#ff0000"/>
<rect x="1076" y="389" width="3" height="6" fill="#ff0000"/>
<rect x="1081" y="369" width="1" height="30" fill="#ff0000"/>
<rect x="1080" y="379" width="3" height="12" fill="#ff0000"/>
<rect x="1085" y="319" width="1" height="73" fill="#ff0000"/>
<rect x="1084" y="339" width="3" height="41" fill="#ff0000"/>
<rect x="1089" y="295" width="1" height="52" fill="#ff0000"/>
<rect x="1088" y="306" width="3" height="35" fill="#ff0000"/>
<rect x="1093" y="304" width="1" height="15" fill="#00ff00"/>
<rect x="1092" y="305" width="3" height="13" fill="#00ff00"/>
<rect x="1097" y="324" width="1" height="34" fill="#00ff00"/>
<rect x="1096" y="327" width="3" height="25" fill="#00ff00"/>
<rect x="1101" y="343" width="1" height="53" fill="#00ff00"/>
<rect x="1100" y="351" width="3" height="35" fill="#00ff00"/>
<rect x="1105" y="378" width="1" height="41" fill="#00ff00"/>
<rect x="1104" y="385" width="3" height="21" fill="#00ff00"/>
<rect x="1109" y="398" width="1" height="28" fill="#ff0000"/>
<rect x="1108" y="400" width="3" height="6" fill="#ff0000"/>
<rect x="1113" y="368" width="1" height="40" fill="#ff0000"/>
<rect x="1112" y="377" width="3" height="25" fill="#ff0000"/>
<rect x="1117" y="380" width="1" height="8" fill="#00ff00"/>
<rect x="1116" y="380" width="3" height="8" fill="#00ff00"/>
<rect x="1121" y="381" width="1" height="27" fill="#00ff00"/>
<rect x="1120" y="389" width="3" height="11" fill="#00ff00"/>
<rect x="1125" y="363" width="1" height="54" fill="#ff0000"/>
<rect x="1124" y="375" width="3" height="24" fill="#ff0000"/>
<rect x="1129" y="358" width="1" height="36" fill="#00ff00"/>
<rect x="1128" y="375" width="3" height="16" fill="#00ff00"/>
<rect x="1133" y="387" width="1" height="35" fill="#00ff00"/>
<rect x="1132" y="389" width="3" height="20" fill="#00ff00"/>
<rect x="1137" y="381" width="1" height="38" fill="#ff0000"/>
<rect x="1136" y="399" width="3" height="10" fill="#ff0000"/>
<rect x="1141" y="396" width="1" height="10" fill="#00ff00"/>
<rect x="1140" y="399" width="3" height="3" fill="#00ff00"/>
<rect x="1145" y="349" width="1" height="60" fill="#ff0000"/>
<rect x="1144" y="354" width="3" height="43" fill="#ff0000"/>
<rect x="1149" y="317" width="1" height="41" fill="#ff0000"/>
<rect x="1148" y="337" width="3" height="19" fill="#ff0000"/>
<rect x="1153" y="304" width="1" height="43" fill="#ff0000"/>
<rect x="1152" y="315" width="3" height="24" fill="#ff0000"/>
<rect x="1157" y="300" width="1" height="39" fill="#00ff00"/>
<rect x="1156" y="315" width="3" height="16" fill="#00ff00"/>
<rect x="1161" y="321" width="1" height="44" fill="#00ff00"/>
<rect x="1160" y="329" width="3" height="31" fill="#00ff00"/>
<rect x="1165" y="356" width="1" height="8" fill="#ff0000"/>
<rect x="1164" y="357" width="3" height="4" fill="#ff0000"/>
<rect x="1169" y="348" width="1" height="24" fill="#00ff00"/>
<rect x="1168" y="354" width="3" height="6" fill="#00ff00"/>
<rect x="1173" y="309" width="1" height="53" fill="#ff0000"/>
<rect x="1172" y="320" width="3" height="40" fill="#ff0000"/>
<rect x="1177" y="289" width="1" height="51" fill="#00ff00"/>
<rect x="1176" y="320" width="3" height="3" fill="#00ff00"/>
<rect x="1181" y="295" width="1" height="28" fill="#ff0000"/>
<rect x="1180" y="296" width="3" height="27" fill="#ff0000"/>
<path d="M237 232.5h4M330 280.5h2M589 280.5h2M603 280.5h2M890 329.5h2M426 296.5h3M937 296.5h2M1105 369.5h3M1116 369.5h7M1175 369.5h2M437 293.5h3M995 293.5h2M253 240.5h2M688 240.5h3M755 240.5h3M1072 359.5h5M1083 359.5h3M277 251.5h2M319 276.5h3M580 276.5h4M611 276.5h2M359 301.5h3M415 301.5h3M919 301.5h2M945 301.5h2M424 297.5h2M927 297.5h2M939 297.5h2M895 326.5h2M357 300.5h2M418 300.5h3M921 300.5h2M57 154.5h20M322 277.5h3M584 277.5h2M609 277.5h2M350 294.5h2M433 294.5h4M932 294.5h2M266 248.5h7M781 248.5h3M1108 370.5h8M1123 370.5h7M1173 370.5h2M447 290.5h2M981 286.5h5M499 260.5h19M535 260.5h2M170 205.5h4M180 207.5h11M346 291.5h2M444 291.5h3M974 291.5h2M992 291.5h2M307 271.5h2M555 271.5h4M621 271.5h2M422 298.5h2M925 298.5h2M245 235.5h2M711 235.5h4M736 235.5h4M923 299.5h2M942 299.5h2M388 305.5h7M400 305.5h7M952 305.5h10M686 241.5h2M758 241.5h4M300 267.5h2M476 267.5h2M547 267.5h2M631 267.5h19M1051 366.5h2M1056 366.5h3M1099 366.5h2M1133 373.5h2M1162 373.5h6M45 160.5h2M93 160.5h3M429 295.5h4M930 295.5h2M934 295.5h3M518 259.5h3M533 259.5h2M662 259.5h2M1077 358.5h6M247 236.5h2M707 236.5h4M740 236.5h4M868 338.5h5M875 338.5h3M250 238.5h2M700 238.5h4M748 238.5h4M691 239.5h9M752 239.5h3M53 155.5h4M77 155.5h4M1136 375.5h3M1153 375.5h2M43 161.5h2M96 161.5h9M39 163.5h2M120 163.5h2M332 281.5h2M591 281.5h2M594 281.5h9M241 233.5h2M721 233.5h9M366 303.5h8M408 303.5h4M914 303.5h3M948 303.5h2M166 204.5h4M1048 364.5h2M1062 364.5h3M1096 364.5h2M48 158.5h2M88 158.5h3M482 264.5h3M655 264.5h3M243 234.5h2M715 234.5h6M730 234.5h6M478 266.5h2M544 266.5h3M650 266.5h3M1168 372.5h3M341 287.5h2M453 287.5h2M986 287.5h2M521 258.5h12M1068 361.5h2M1089 361.5h2M124 165.5h2M6 191.5h2M449 289.5h2M197 212.5h2M1066 362.5h2M1091 362.5h3M256 242.5h2M684 242.5h2M762 242.5h3M282 254.5h2M1155 374.5h7M1102 368.5h3M291 261.5h2M491 261.5h8M537 261.5h2M451 288.5h2M978 288.5h2M988 288.5h2M41 162.5h2M105 162.5h15M314 274.5h3M569 274.5h7M615 274.5h2M305 270.5h2M553 270.5h2M623 270.5h3M311 273.5h3M563 273.5h6M617 273.5h2M682 243.5h2M765 243.5h3M1040 357.5h2M374 304.5h14M395 304.5h5M912 304.5h2M950 304.5h2M174 206.5h6M768 244.5h4M1070 360.5h2M1086 360.5h3M1141 377.5h10M195 211.5h2M302 268.5h2M474 268.5h2M549 268.5h2M628 268.5h3M262 246.5h2M775 246.5h3M297 265.5h2M480 265.5h2M653 265.5h2M1053 367.5h3M1178 367.5h2M91 159.5h2M223 228.5h3M1059 365.5h3M704 237.5h3M744 237.5h4M264 247.5h2M676 247.5h2M778 247.5h3M788 253.5h2M1139 376.5h2M1151 376.5h2M226 229.5h3M362 302.5h4M412 302.5h3M917 302.5h2M892 328.5h2M309 272.5h2M559 272.5h4M619 272.5h2M317 275.5h2M576 275.5h4M613 275.5h2M488 262.5h3M667 255.5h2M219 226.5h2M881 336.5h2M260 245.5h2M679 245.5h2M772 245.5h3M1094 363.5h2M159 202.5h3M865 337.5h3M878 337.5h3M221 227.5h2M213 223.5h2M286 257.5h2M215 224.5h2M51 156.5h2M81 156.5h4M27 172.5h2M888 330.5h2M327 279.5h3M463 279.5h2M605 279.5h2M440 292.5h4M162 203.5h4M229 230.5h4M325 278.5h2M586 278.5h2M607 278.5h2M873 339.5h2M279 252.5h2M207 219.5h2M85 157.5h3M456 285.5h2M233 231.5h4M294 263.5h2M485 263.5h3M540 263.5h2M334 282.5h3M551 269.5h2M626 269.5h2M273 249.5h3M203 216.5h2M37 164.5h2M122 164.5h2M10 188.5h2M200 214.5h2M33 167.5h2M217 225.5h2M1130 371.5h2M1171 371.5h2M191 208.5h2M210 221.5h2M135.5 175v1M349.5 293v1M467.5 276v1M136.5 176v1M1002.5 300v2M971.5 294v2M861.5 333v1M991.5 290v1M941.5 298v1M421.5 299v1M1016.5 319v2M29.5 171v1M903.5 316v2M13.5 186v1M1042.5 358v1M963.5 303v1M835.5 302v2M153.5 195v2M816.5 280v1M1005.5 304v2M887.5 331v1M154.5 197v1M860.5 332v1M990.5 289v1M790.5 254v1M660.5 261v1M199.5 213v1M458.5 284v1M929.5 296v1M344.5 289v1M194.5 210v1M356.5 299v1M833.5 300v1M542.5 264v1M834.5 301v1M543.5 265v1M47.5 159v1M1004.5 303v1M786.5 251v1M1098.5 365v1M17.5 182v1M288.5 258v1M1008.5 308v2M664.5 258v1M1037.5 354v1M340.5 286v1M1132.5 372v1M822.5 286v1M1019.5 324v2M885.5 333v1M849.5 321v1M823.5 287v1M897.5 325v1M906.5 312v1M469.5 273v2M909.5 308v1M355.5 298v1M796.5 260v1M970.5 296v1M462.5 280v1M797.5 261v1M152.5 194v1M131.5 171v1M1026.5 339v2M31.5 169v1M841.5 311v2M967.5 299v1M1030.5 345v2M35.5 166v1M847.5 319v1M24.5 175v1M804.5 268v1M848.5 320v1M212.5 222v1M144.5 185v1M1018.5 322v2M675.5 248v1M8.5 190v1M145.5 186v1M854.5 326v1M811.5 275v1M12.5 187v1M130.5 170v1M973.5 292v1M826.5 291v1M855.5 327v1M785.5 250v1M836.5 304v1M1025.5 336v3M837.5 305v1M947.5 302v1M137.5 177v1M862.5 334v1M905.5 313v2M825.5 289v2M962.5 304v1M810.5 274v1M19.5 180v1M977.5 289v1M1028.5 342v2M666.5 256v1M1029.5 344v1M460.5 282v1M670.5 253v1M659.5 262v1M899.5 323v1M817.5 281v1M1006.5 306v1M908.5 309v2M840.5 310v1M818.5 282v1M1007.5 307v1M965.5 301v1M791.5 255v1M249.5 237v1M792.5 256v1M824.5 288v1M126.5 166v1M345.5 290v1M148.5 189v2M1043.5 359v1M26.5 173v1M828.5 293v2M839.5 308v2M30.5 170v1M799.5 263v1M155.5 198v1M999.5 296v2M289.5 259v1M843.5 314v2M1032.5 349v1M884.5 334v1M139.5 179v2M290.5 260v1M911.5 305v2M14.5 185v1M140.5 181v1M850.5 322v1M1039.5 356v1M969.5 297v1M147.5 188v1M1031.5 347v2M681.5 244v1M798.5 262v1M132.5 172v1M838.5 306v2M1027.5 341v1M857.5 329v1M787.5 252v1M1024.5 334v2M1009.5 310v1M1038.5 355v1M805.5 269v1M1010.5 311v1M1050.5 365v1M471.5 271v1M1065.5 363v1M806.5 270v1M972.5 293v1M539.5 262v1M661.5 260v1M146.5 187v1M976.5 290v1M285.5 256v1M466.5 277v1M455.5 286v1M665.5 257v1M812.5 276v1M459.5 283v1M813.5 277v1M842.5 313v1M902.5 318v1M964.5 302v1M258.5 243v1M21.5 178v1M820.5 284v1M259.5 244v1M1020.5 326v2M352.5 295v1M864.5 336v1M281.5 253v1M284.5 255v1M672.5 251v1M886.5 332v1M827.5 292v1M856.5 328v1M669.5 254v1M304.5 269v1M997.5 294v1M5.5 192v1M1045.5 361v1M998.5 295v1M206.5 218v1M156.5 199v1M299.5 266v1M209.5 220v1M138.5 178v1M157.5 200v1M863.5 335v1M1023.5 332v2M845.5 317v1M1034.5 351v1M1012.5 313v2M819.5 283v1M588.5 279v1M793.5 257v1M127.5 167v1M894.5 327v1M1177.5 368v1M794.5 258v1M149.5 191v1M1044.5 360v1M16.5 183v1M898.5 324v1M205.5 217v1M944.5 300v1M1033.5 350v1M910.5 307v1M473.5 269v1M800.5 264v1M9.5 189v1M337.5 283v1M801.5 265v1M1001.5 299v1M32.5 168v1M461.5 281v1M807.5 271v1M36.5 165v1M142.5 183v1M202.5 215v1M829.5 295v1M808.5 272v1M276.5 250v1M901.5 319v2M966.5 300v1M852.5 324v1M830.5 296v1M23.5 176v1M1000.5 298v1M844.5 316v1M1022.5 330v2M815.5 279v1M674.5 249v1M134.5 174v1M470.5 272v1M141.5 182v1M859.5 331v1M468.5 275v1M851.5 323v1M1011.5 312v1M1101.5 367v1M465.5 278v1M1135.5 374v1M50.5 157v1M133.5 173v1M858.5 330v1M904.5 315v1M814.5 278v1M20.5 179v1M678.5 246v1M1021.5 328v2M1014.5 316v2M407.5 304v1M671.5 252v1M18.5 181v1M900.5 321v2M1015.5 318v1M821.5 285v1M193.5 209v1M980.5 287v1M343.5 288v1M658.5 263v1M832.5 298v2M795.5 259v1M907.5 311v1M151.5 193v1M1046.5 362v1M1003.5 302v1M1047.5 363v1M158.5 201v1M339.5 285v1M1013.5 315v1M803.5 267v1M353.5 296v1M354.5 297v1M15.5 184v1M883.5 335v1M593.5 282v1M784.5 249v1M255.5 241v1M846.5 318v1M1035.5 352v1M338.5 284v1M802.5 266v1M1036.5 353v1M968.5 298v1M143.5 184v1M1017.5 321v1M25.5 174v1M128.5 168v1M994.5 292v1M853.5 325v1M22.5 177v1M150.5 192v1M293.5 262v1M129.5 169v1M809.5 273v1M296.5 264v1M472.5 270v1M252.5 239v1M348.5 292v1M831.5 297v1M673.5 250v1" fill="none" stroke="#0000cd" stroke-width="1"/>
<path d="M445 255.5h3M496 255.5h2M620 255.5h2M370 321.5h2M1101 373.5h2M1120 373.5h2M1132 373.5h2M34 147.5h2M971 352.5h6M769 269.5h2M1074 375.5h2M1104 375.5h3M1116 375.5h2M1135 375.5h2M456 249.5h2M486 249.5h2M650 249.5h4M515 271.5h2M772 271.5h2M467 239.5h8M666 239.5h2M737 239.5h2M856 376.5h2M1090 376.5h2M1107 376.5h3M1113 376.5h3M453 251.5h2M489 251.5h2M638 251.5h4M262 272.5h2M372 322.5h2M266 274.5h2M777 274.5h2M1055 360.5h2M329 285.5h3M548 285.5h6M558 285.5h7M313 284.5h2M327 284.5h2M541 284.5h7M565 284.5h7M587 284.5h3M793 284.5h2M1017 340.5h3M642 250.5h8M448 254.5h2M622 254.5h2M754 254.5h2M173 227.5h2M185 220.5h2M199 220.5h2M204 220.5h9M705 220.5h7M317 282.5h7M535 282.5h3M576 282.5h7M465 240.5h2M475 240.5h2M279 281.5h2M530 281.5h5M593 281.5h2M439 259.5h2M929 206.5h3M315 283.5h2M324 283.5h3M538 283.5h3M572 283.5h4M583 283.5h4M590 283.5h2M1051 362.5h2M932 207.5h2M511 268.5h2M272 277.5h2M522 277.5h2M783 277.5h2M670 236.5h2M733 236.5h2M657 246.5h2M1144 382.5h3M183 221.5h2M201 221.5h3M697 221.5h8M712 221.5h3M1147 383.5h2M1150 383.5h2M290 291.5h5M301 291.5h3M40 142.5h2M1064 366.5h2M181 222.5h2M695 222.5h2M715 222.5h2M374 323.5h3M1053 361.5h2M1057 361.5h2M402 314.5h2M499 257.5h2M178 224.5h2M691 224.5h2M719 224.5h2M227 234.5h2M674 234.5h2M342 294.5h2M157 229.5h5M170 229.5h2M102 180.5h2M491 252.5h2M626 252.5h12M992 369.5h2M1095 372.5h6M1163 372.5h2M162 230.5h2M167 230.5h3M683 230.5h3M379 325.5h2M672 235.5h2M1123 371.5h8M1040 364.5h6M176 225.5h2M6 164.5h2M508 266.5h2M969 353.5h2M977 353.5h2M527 280.5h3M595 280.5h2M31 149.5h2M264 273.5h2M775 273.5h2M450 253.5h2M493 253.5h2M624 253.5h2M752 253.5h2M860 379.5h2M869 379.5h2M1079 379.5h9M22 155.5h2M377 324.5h2M1046 363.5h5M1060 363.5h2M306 289.5h2M336 289.5h2M310 286.5h2M554 286.5h4M295 292.5h6M363 315.5h2M276 279.5h2M525 279.5h2M787 279.5h2M268 275.5h2M779 275.5h2M862 380.5h2M867 380.5h2M187 219.5h2M196 219.5h3M333 287.5h2M1139 378.5h2M381 326.5h9M13 160.5h2M121 188.5h3M1110 377.5h3M52 134.5h7M463 241.5h2M17 158.5h2M270 276.5h2M781 276.5h2M443 256.5h2M757 256.5h2M989 368.5h3M345 296.5h2M50 135.5h2M59 135.5h2M654 248.5h2M47 137.5h2M722 226.5h2M979 354.5h2M274 278.5h2M598 278.5h2M785 278.5h2M358 312.5h2M360 313.5h2M1153 381.5h2M676 233.5h2M119 187.5h2M109 184.5h5M19 157.5h2M215 223.5h2M693 223.5h2M717 223.5h2M44 139.5h2M117 186.5h2M85 165.5h2M1118 374.5h2M164 231.5h3M681 231.5h2M15 159.5h2M397 318.5h2M236 243.5h2M11 161.5h2M8 163.5h2M114 185.5h3M304 290.5h2M28 151.5h2M189 218.5h7M478 242.5h2M662 242.5h2M678 232.5h3M107 183.5h2M100 179.5h2M25 153.5h2M96 176.5h2M105 182.5h2M247.5 255v1M879.5 363v3M94.5 174v1M940.5 229v4M891.5 327v3M10.5 162v1M949.5 270v5M830.5 328v2M909.5 242v4M942.5 237v5M883.5 351v4M833.5 333v2M959.5 318v5M908.5 246v5M882.5 355v3M355.5 309v1M826.5 320v2M38.5 144v1M608.5 268v2M232.5 238v1M284.5 285v1M886.5 342v3M855.5 375v1M900.5 283v6M748.5 249v1M505.5 262v1M916.5 222v2M827.5 322v2M233.5 239v2M904.5 264v5M956.5 304v5M840.5 350v2M619.5 256v1M925.5 210v1M878.5 366v2M1162.5 373v1M953.5 290v5M340.5 292v1M837.5 343v2M517.5 272v1M689.5 226v1M404.5 313v1M258.5 268v1M93.5 173v1M393.5 322v1M72.5 149v2M341.5 293v1M127.5 193v1M895.5 309v5M239.5 245v1M999.5 360v2M920.5 216v2M952.5 284v6M935.5 212v3M78.5 157v2M899.5 289v5M180.5 223v1M943.5 242v4M240.5 246v1M429.5 271v2M874.5 373v2M847.5 365v3M936.5 215v4M767.5 266v2M962.5 333v4M246.5 253v2M1027.5 350v2M887.5 339v3M816.5 306v2M829.5 326v2M800.5 290v1M611.5 265v1M946.5 255v5M1016.5 341v1M995.5 367v1M939.5 225v4M907.5 251v5M250.5 259v1M822.5 313v2M801.5 291v1M220.5 227v1M425.5 277v2M460.5 244v2M1175.5 361v1M1094.5 373v1M67.5 142v2M790.5 281v1M823.5 315v1M437.5 261v1M221.5 228v1M1166.5 370v1M149.5 220v2M912.5 231v4M1034.5 358v1M890.5 330v3M661.5 243v1M807.5 297v1M836.5 340v3M726.5 229v1M1159.5 376v1M881.5 358v2M432.5 267v2M665.5 240v1M903.5 269v4M435.5 263v2M808.5 298v1M603.5 274v1M894.5 314v5M923.5 212v2M885.5 345v3M137.5 206v1M156.5 228v1M138.5 207v1M1023.5 344v1M844.5 359v2M744.5 245v1M981.5 355v2M1033.5 357v1M482.5 245v1M815.5 305v1M945.5 250v5M745.5 246v1M938.5 222v3M366.5 317v1M789.5 280v1M955.5 300v4M821.5 312v1M1007.5 350v1M235.5 242v1M1143.5 381v1M759.5 257v1M606.5 271v1M257.5 266v2M428.5 273v1M70.5 146v2M407.5 308v2M89.5 169v1M1022.5 343v1M669.5 237v1M1025.5 347v2M71.5 148v1M889.5 333v3M1170.5 366v1M455.5 250v1M81.5 161v1M1078.5 378v1M21.5 156v1M1026.5 349v1M893.5 319v5M104.5 181v1M948.5 265v5M1067.5 368v1M984.5 360v2M614.5 261v1M850.5 370v1M911.5 235v3M1142.5 380v1M743.5 244v1M897.5 299v5M814.5 304v1M362.5 314v1M249.5 257v2M898.5 294v5M843.5 357v2M961.5 328v5M395.5 320v1M851.5 371v1M99.5 178v1M958.5 313v5M501.5 258v1M1178.5 357v1M902.5 273v5M234.5 241v1M865.5 382v1M937.5 219v3M1014.5 343v1M148.5 219v1M357.5 311v1M825.5 318v2M431.5 269v1M286.5 287v1M750.5 251v1M125.5 190v2M919.5 218v1M507.5 264v2M839.5 347v3M1173.5 363v1M287.5 288v1M751.5 252v1M155.5 227v1M762.5 261v1M944.5 246v4M519.5 274v1M260.5 270v1M332.5 286v1M795.5 285v1M1063.5 365v1M1002.5 355v2M951.5 280v4M934.5 209v3M140.5 210v1M954.5 295v5M5.5 165v1M915.5 224v2M601.5 276v1M877.5 368v2M846.5 363v2M927.5 208v1M347.5 297v2M983.5 359v1M1089.5 377v1M141.5 211v1M399.5 317v1M880.5 360v3M968.5 350v3M312.5 285v1M910.5 238v4M998.5 362v2M1001.5 357v2M884.5 348v3M1073.5 374v1M392.5 323v1M88.5 168v1M941.5 233v4M824.5 316v2M803.5 293v1M222.5 229v1M1062.5 364v1M888.5 336v3M69.5 145v1M223.5 230v1M838.5 345v2M947.5 260v5M892.5 324v3M151.5 223v1M686.5 229v1M964.5 341v3M518.5 273v1M1138.5 377v1M390.5 325v1M410.5 303v1M73.5 151v1M488.5 250v1M1103.5 374v1M871.5 378v1M997.5 364v2M906.5 256v4M728.5 231v1M1028.5 352v1M95.5 175v1M957.5 309v4M1009.5 348v1M241.5 247v1M982.5 357v2M1029.5 353v1M139.5 208v2M842.5 354v3M1168.5 368v1M1093.5 374v1M462.5 242v1M845.5 361v2M61.5 136v1M427.5 274v2M406.5 310v2M42.5 141v1M817.5 308v1M27.5 152v1M994.5 368v1M252.5 261v1M901.5 278v5M422.5 282v1M62.5 137v1M1161.5 374v1M434.5 265v1M414.5 296v2M802.5 292v1M350.5 302v1M457.5 248v1M791.5 282v1M87.5 166v2M259.5 269v1M1134.5 374v1M616.5 259v1M950.5 275v5M896.5 304v5M761.5 259v2M128.5 194v1M960.5 323v5M914.5 226v2M418.5 289v1M876.5 370v2M963.5 337v4M727.5 230v1M129.5 195v1M1180.5 355v1M835.5 338v2M809.5 299v1M1024.5 345v2M739.5 240v1M905.5 260v4M613.5 262v1M349.5 300v2M986.5 363v2M251.5 260v1M513.5 269v1M46.5 138v1M281.5 282v1M933.5 208v1M605.5 272v1M483.5 246v1M502.5 259v1M1013.5 344v1M514.5 270v1M768.5 268v1M441.5 258v1M367.5 318v1M150.5 222v1M746.5 247v1M1035.5 359v1M1004.5 353v1M484.5 247v1M503.5 260v1M1172.5 364v1M760.5 258v1M368.5 319v1M39.5 143v1M1036.5 360v1M1122.5 372v1M1152.5 382v1M1156.5 379v1M76.5 155v1M834.5 335v3M243.5 249v2M394.5 321v1M421.5 283v2M82.5 162v1M913.5 228v3M524.5 278v1M244.5 251v1M1068.5 369v1M348.5 299v1M985.5 362v1M83.5 163v1M229.5 235v1M1069.5 370v1M852.5 372v1M143.5 213v1M921.5 215v1M352.5 304v2M218.5 225v1M841.5 352v2M967.5 348v2M774.5 272v1M417.5 290v2M409.5 304v2M735.5 237v1M90.5 170v1M131.5 197v2M288.5 289v1M75.5 153v2M600.5 277v1M33.5 148v1M401.5 315v1M592.5 282v1M1008.5 349v1M520.5 275v1M413.5 298v1M498.5 256v1M135.5 203v2M37.5 145v1M405.5 312v1M988.5 366v2M1167.5 369v1M1000.5 359v1M924.5 211v1M756.5 255v1M452.5 252v1M142.5 212v1M433.5 266v1M217.5 224v1M64.5 139v1M612.5 263v2M966.5 346v2M615.5 260v1M1011.5 346v1M996.5 366v1M763.5 262v1M261.5 271v1M224.5 231v1M796.5 286v1M607.5 270v1M866.5 381v1M225.5 232v1M797.5 287v1M729.5 232v1M214.5 222v1M424.5 279v1M459.5 246v1M987.5 365v1M730.5 233v1M688.5 227v1M741.5 242v1M436.5 262v1M1030.5 354v1M416.5 292v2M618.5 257v1M771.5 270v1M253.5 262v1M804.5 294v1M1158.5 377v1M63.5 138v1M254.5 263v1M420.5 285v2M928.5 207v1M175.5 226v1M369.5 320v1M152.5 224v1M1037.5 361v1M412.5 299v2M858.5 377v1M74.5 152v1M873.5 375v1M740.5 241v1M811.5 301v1M130.5 196v1M610.5 266v1M242.5 248v1M213.5 221v1M344.5 295v1M408.5 306v2M1006.5 351v1M1174.5 362v1M818.5 309v1M656.5 247v1M144.5 214v2M1003.5 354v1M1165.5 371v1M1059.5 362v1M1070.5 371v1M351.5 303v1M660.5 244v1M145.5 216v1M792.5 283v1M1071.5 372v1M854.5 374v1M485.5 248v1M504.5 261v1M396.5 319v1M736.5 238v1M400.5 316v1M423.5 280v2M1015.5 342v1M133.5 200v2M810.5 300v1M1177.5 358v1M832.5 332v1M282.5 283v1M853.5 373v1M354.5 307v2M419.5 287v2M231.5 237v1M918.5 219v1M283.5 284v1M828.5 324v2M747.5 248v1M664.5 241v1M602.5 275v1M965.5 344v2M339.5 291v1M668.5 238v1M309.5 287v1M43.5 140v1M289.5 290v1M24.5 154v1M724.5 227v1M415.5 294v2M690.5 225v1M126.5 192v1M1169.5 367v1M36.5 146v1M77.5 156v1M926.5 209v1M725.5 228v1M765.5 264v1M132.5 199v1M92.5 172v1M766.5 265v1M831.5 330v2M245.5 252v1M687.5 228v1M84.5 164v1M391.5 324v1M1131.5 372v1M799.5 289v1M411.5 301v2M230.5 236v1M872.5 376v2M430.5 270v1M353.5 306v1M732.5 235v1M219.5 226v1M1010.5 347v1M481.5 244v1M338.5 290v1M365.5 316v1M91.5 171v1M1088.5 378v1M256.5 265v1M764.5 263v1M510.5 267v1M66.5 141v1M438.5 260v1M1020.5 341v1M521.5 276v1M278.5 280v1M238.5 244v1M458.5 247v1M1092.5 375v1M461.5 243v1M136.5 205v1M1021.5 342v1M442.5 257v1M617.5 258v1M1160.5 375v1M798.5 288v1M1149.5 384v1M80.5 160v1M1077.5 377v1M30.5 150v1M335.5 288v1M1066.5 367v1M731.5 234v1M1141.5 379v1M480.5 243v1M248.5 256v1M820.5 311v1M1032.5 356v1M65.5 140v1M721.5 225v1M805.5 295v1M1176.5 359v2M864.5 381v1M1179.5 356v1M147.5 218v1M255.5 264v1M806.5 296v1M609.5 267v1M153.5 225v1M495.5 254v1M506.5 263v1M1076.5 376v1M859.5 378v1M917.5 220v2M226.5 233v1M154.5 226v1M1005.5 352v1M1039.5 363v1M426.5 276v1M812.5 302v1M604.5 273v1M477.5 241v1M849.5 369v1M742.5 243v1M1031.5 355v1M49.5 136v1M659.5 245v1M813.5 303v1M597.5 279v1M98.5 177v1M819.5 310v1M1157.5 378v1M875.5 372v1M356.5 310v1M146.5 217v1M285.5 286v1M308.5 288v1M749.5 250v1M124.5 189v1M1038.5 362v1M1155.5 380v1M1072.5 373v1M68.5 144v1M922.5 214v1M79.5 159v1M1012.5 345v1M134.5 202v1M1137.5 376v1M172.5 228v1M848.5 368v1M1171.5 365v1" fill="none" stroke="#ff0000" stroke-width="1"/>
<path d="M1142 392.5h2M148 239.5h2M1169 344.5h2M1174 344.5h2M503 292.5h2M508 295.5h3M309 275.5h3M788 275.5h3M295 280.5h2M302 280.5h2M1165 341.5h2M565 296.5h2M771 296.5h3M314 277.5h2M1029 338.5h3M1097 338.5h2M299 278.5h2M133 233.5h10M590 267.5h4M728 238.5h2M215 255.5h2M219 255.5h4M450 255.5h5M321 283.5h2M981 283.5h2M529 269.5h3M357 339.5h5M1099 339.5h2M1162 339.5h2M179 195.5h2M187 195.5h2M844 397.5h5M679 200.5h2M506 294.5h2M297 279.5h2M556 298.5h4M312 276.5h2M791 276.5h2M1079 398.5h2M1005 390.5h4M624 235.5h2M472 227.5h2M711 243.5h2M716 243.5h3M99 180.5h2M155 244.5h2M232 244.5h6M713 244.5h3M72 189.5h2M110 189.5h2M626 236.5h3M725 236.5h2M769 297.5h2M212 254.5h3M448 254.5h2M455 254.5h2M112 190.5h2M629 237.5h2M723 237.5h2M852 394.5h2M1138 394.5h2M501 291.5h2M515 291.5h2M560 299.5h3M304 281.5h2M1171 345.5h3M28 110.5h2M36 110.5h2M288 286.5h2M532 268.5h3M594 268.5h7M536 270.5h2M95 177.5h2M649 261.5h3M376 318.5h3M177 196.5h2M512 293.5h2M1025 348.5h2M229 246.5h2M387 315.5h2M379 317.5h5M183 193.5h3M181 194.5h2M647 260.5h2M268 308.5h2M430 230.5h2M1120 393.5h2M1140 393.5h2M1126 387.5h2M585 265.5h2M849 396.5h2M1160 340.5h2M217 256.5h2M1023 349.5h2M1074 400.5h4M242 249.5h2M75 187.5h2M107 187.5h2M1134 391.5h2M583 266.5h2M587 266.5h3M428 231.5h2M432 231.5h2M677 199.5h2M32 108.5h2M152 242.5h2M709 242.5h2M956 449.5h2M384 316.5h3M956 448.5h2M1072 399.5h2M30 109.5h2M34 109.5h2M684 204.5h2M707.5 239v2M980.5 284v4M370.5 325v2M604.5 262v2M550.5 291v2M1092.5 346v3M979.5 288v4M890.5 246v5M889.5 251v4M794.5 279v2M1034.5 341v2M671.5 209v2M894.5 223v6M879.5 315v9M307.5 277v2M919.5 163v7M949.5 415v13M925.5 209v5M815.5 336v3M1151.5 369v5M426.5 233v2M366.5 332v2M800.5 295v3M1015.5 369v3M871.5 354v3M276.5 295v2M937.5 296v7M164.5 232v3M250.5 272v3M996.5 353v6M1113.5 382v3M657.5 251v2M822.5 354v2M782.5 282v2M464.5 238v2M15.5 143v4M744.5 255v2M172.5 208v3M253.5 282v3M748.5 262v2M580.5 269v1M344.5 320v2M6.5 182v5M963.5 415v10M828.5 369v3M943.5 348v10M1057.5 378v2M1103.5 344v4M123.5 208v2M1155.5 354v4M666.5 226v3M952.5 440v3M778.5 289v1M542.5 277v2M1070.5 397v1M191.5 200v3M56.5 154v3M969.5 351v10M874.5 342v4M257.5 294v3M940.5 318v10M999.5 370v5M409.5 278v3M543.5 279v2M851.5 395v1M992.5 328v7M576.5 275v2M59.5 164v3M1071.5 398v1M1106.5 356v5M983.5 285v2M903.5 171v6M493.5 277v3M130.5 224v3M284.5 284v1M1002.5 384v2M993.5 335v7M194.5 208v3M41.5 117v2M986.5 295v4M883.5 283v8M478.5 233v2M974.5 315v7M369.5 327v2M176.5 198v2M195.5 211v2M880.5 306v9M1152.5 364v5M930.5 246v7M279.5 290v2M10.5 165v4M968.5 361v13M264.5 310v1M479.5 235v2M572.5 283v2M201.5 227v3M66.5 181v2M440.5 242v2M669.5 214v3M485.5 251v3M946.5 378v11M878.5 324v6M48.5 132v3M441.5 244v2M1159.5 342v3M942.5 338v10M365.5 334v1M163.5 235v4M336.5 306v2M275.5 297v1M927.5 220v9M656.5 253v3M989.5 308v7M781.5 284v2M921.5 178v9M858.5 387v2M964.5 404v11M951.5 434v6M721.5 239v2M915.5 139v6M892.5 235v5M159.5 243v1M211.5 252v2M271.5 304v2M754.5 272v1M948.5 400v15M933.5 268v7M757.5 277v2M897.5 206v6M634.5 243v2M810.5 324v3M144.5 235v1M923.5 195v8M699.5 227v2M901.5 182v5M945.5 368v10M575.5 277v2M167.5 222v3M795.5 281v2M17.5 136v3M552.5 294v1M973.5 322v7M553.5 295v1M77.5 186v1M1108.5 366v4M619.5 240v1M175.5 200v3M817.5 341v2M668.5 217v5M416.5 260v3M571.5 285v3M799.5 292v3M920.5 170v8M978.5 292v5M249.5 268v4M887.5 260v5M88.5 172v2M342.5 317v2M1112.5 379v3M1158.5 345v3M364.5 335v2M274.5 298v2M121.5 205v2M346.5 323v2M252.5 279v3M518.5 287v2M223.5 253v2M827.5 367v2M857.5 389v2M1058.5 380v1M488.5 262v4M125.5 212v2M720.5 241v1M1102.5 342v2M189.5 196v2M981.5 282v1M1059.5 381v2M1178.5 338v2M270.5 306v2M967.5 374v11M491.5 272v3M891.5 240v6M1105.5 352v4M1145.5 388v2M917.5 151v6M420.5 248v3M58.5 161v3M834.5 383v2M640.5 253v1M935.5 282v7M196.5 213v3M129.5 222v2M316.5 278v1M193.5 205v3M480.5 237v3M896.5 212v6M245.5 254v4M873.5 346v4M457.5 253v1M166.5 225v3M1017.5 361v4M962.5 425v7M64.5 178v2M439.5 240v2M442.5 246v2M200.5 224v3M68.5 184v1M484.5 247v4M926.5 214v6M972.5 329v8M338.5 310v2M1089.5 356v6M91.5 173v1M102.5 182v1M8.5 173v4M899.5 193v6M335.5 304v2M950.5 428v6M802.5 301v3M997.5 359v6M977.5 297v6M882.5 291v8M103.5 183v1M904.5 165v6M876.5 334v4M947.5 389v11M805.5 310v2M939.5 310v8M971.5 337v7M991.5 321v7M675.5 201v1M975.5 309v6M398.5 300v2M255.5 289v3M944.5 358v10M1012.5 379v3M20.5 126v3M646.5 259v1M12.5 156v5M186.5 194v1M258.5 297v3M929.5 237v9M966.5 385v10M419.5 251v3M323.5 284v1M941.5 328v10M987.5 299v4M327.5 289v2M1004.5 388v2M165.5 228v4M391.5 311v2M43.5 121v2M469.5 230v2M965.5 395v9M97.5 178v1M98.5 179v1M50.5 137v3M738.5 247v1M7.5 177v5M932.5 261v7M976.5 303v6M465.5 236v2M1088.5 362v7M922.5 187v8M1061.5 384v2M374.5 320v1M690.5 210v2M1011.5 382v3M169.5 216v3M832.5 379v2M970.5 344v7M908.5 146v4M603.5 264v1M528.5 270v2M836.5 386v2M285.5 283v1M840.5 392v2M1167.5 342v1M862.5 379v2M1168.5 343v1M406.5 285v2M1035.5 343v3M786.5 277v1M524.5 277v1M1110.5 373v3M115.5 194v1M93.5 175v1M801.5 298v3M116.5 195v2M14.5 147v5M422.5 242v3M804.5 307v3M777.5 290v2M665.5 229v3M745.5 257v2M254.5 285v4M902.5 177v5M1067.5 394v1M1019.5 354v3M460.5 246v3M703.5 233v1M918.5 157v6M325.5 286v2M765.5 293v1M246.5 258v3M44.5 123v2M329.5 292v2M766.5 294v1M1132.5 388v2M198.5 218v3M45.5 125v3M1003.5 386v2M1164.5 340v1M405.5 287v2M888.5 255v5M74.5 188v1M523.5 278v2M1041.5 354v1M1014.5 372v3M1026.5 346v2M1045.5 360v1M401.5 294v2M413.5 269v2M208.5 245v2M13.5 152v4M158.5 244v1M519.5 285v2M55.5 151v3M692.5 213v2M421.5 245v3M1147.5 384v2M1086.5 374v4M838.5 389v2M884.5 276v7M459.5 249v2M1033.5 340v1M906.5 155v5M796.5 283v3M9.5 169v4M25.5 113v2M404.5 289v2M995.5 348v5M1123.5 391v1M1115.5 387v2M1181.5 332v1M1081.5 394v3M1013.5 375v4M746.5 259v2M400.5 296v2M412.5 271v3M567.5 294v2M910.5 139v3M747.5 261v1M750.5 266v1M146.5 237v1M701.5 230v1M1093.5 344v2M702.5 231v2M954.5 445v2M190.5 198v2M705.5 236v2M396.5 303v2M865.5 373v2M494.5 280v2M555.5 297v1M61.5 170v2M80.5 183v1M308.5 276v1M495.5 282v2M602.5 265v1M936.5 289v7M900.5 187v6M16.5 139v4M659.5 246v2M1043.5 357v1M727.5 237v1M1046.5 361v2M667.5 222v4M1047.5 363v2M570.5 288v2M206.5 240v2M693.5 215v2M886.5 265v5M207.5 242v3M674.5 202v1M1096.5 339v2M632.5 240v2M410.5 276v2M643.5 256v1M760.5 282v3M812.5 329v3M864.5 375v2M994.5 342v6M468.5 232v1M601.5 266v2M71.5 187v2M895.5 218v5M819.5 346v3M1016.5 365v4M105.5 185v1M860.5 383v2M1028.5 339v3M658.5 248v3M251.5 275v4M734.5 243v1M823.5 356v3M868.5 364v4M928.5 229v8M829.5 372v3M1000.5 375v5M19.5 129v3M984.5 287v4M497.5 285v2M60.5 167v3M1091.5 349v3M670.5 211v3M931.5 253v8M1160.5 341v1M27.5 111v1M1083.5 386v4M1027.5 342v4M337.5 308v2M960.5 437v4M340.5 314v1M990.5 315v6M362.5 338v1M631.5 239v1M807.5 315v3M934.5 275v7M1087.5 369v5M758.5 279v1M287.5 285v1M645.5 258v1M759.5 280v2M38.5 111v2M511.5 294v1M260.5 303v3M18.5 132v4M924.5 203v6M231.5 245v1M1109.5 370v3M818.5 343v3M893.5 229v6M736.5 245v1M1055.5 376v1M611.5 250v2M347.5 325v2M22.5 120v3M122.5 207v1M489.5 266v3M541.5 276v1M544.5 281v1M290.5 285v1M622.5 237v1M1146.5 386v2M607.5 257v2M545.5 282v2M1018.5 357v4M392.5 310v1M470.5 229v1M65.5 180v1M443.5 248v2M1122.5 392v1M1150.5 374v4M425.5 235v2M114.5 192v2M171.5 211v2M21.5 123v3M806.5 312v3M294.5 281v1M579.5 270v1M154.5 243v1M958.5 445v3M1177.5 340v2M606.5 259v2M289.5 287v1M563.5 298v1M395.5 305v2M259.5 300v3M1001.5 380v4M985.5 291v4M1085.5 378v4M1129.5 385v1M787.5 276v1M435.5 233v2M368.5 329v2M816.5 339v2M1130.5 386v1M905.5 160v5M203.5 233v3M348.5 327v1M124.5 210v2M349.5 328v2M352.5 333v1M916.5 145v6M1065.5 390v2M150.5 240v1M578.5 271v2M11.5 161v4M371.5 324v1M837.5 388v1M1136.5 392v1M67.5 183v1M574.5 279v2M798.5 289v3M367.5 331v1M1036.5 346v3M730.5 239v1M277.5 293v2M415.5 263v3M938.5 303v7M1157.5 348v3M1114.5 385v2M881.5 299v7M885.5 270v6M273.5 300v2M749.5 264v2M145.5 236v1M490.5 269v3M700.5 229v1M168.5 219v3M192.5 203v2M577.5 273v2M704.5 234v2M662.5 237v3M63.5 175v3M247.5 261v4M330.5 294v2M228.5 247v1M333.5 300v2M616.5 243v1M26.5 112v1M573.5 281v2M202.5 230v3M898.5 199v7M486.5 254v4M350.5 330v1M722.5 238v1M1049.5 366v2M351.5 331v2M209.5 247v3M86.5 175v2M272.5 302v2M1063.5 387v2M854.5 393v1M696.5 221v2M5.5 187v4M151.5 241v1M653.5 259v1M835.5 385v1M81.5 182v1M267.5 309v1M623.5 236v1M839.5 391v1M239.5 246v1M762.5 287v2M814.5 334v2M418.5 254v3M475.5 229v2M661.5 240v3M69.5 185v1M1128.5 386v1M797.5 286v3M447.5 253v1M1082.5 390v4M732.5 241v1M610.5 252v1M733.5 242v1M824.5 359v3M1094.5 342v2M831.5 377v2M751.5 267v2M147.5 238v1M373.5 321v2M673.5 203v3M706.5 238v1M132.5 230v2M62.5 172v3M496.5 284v1M328.5 291v1M331.5 296v2M660.5 243v3M197.5 216v2M481.5 240v2M305.5 280v1M861.5 381v2M739.5 248v1M1048.5 365v1M1080.5 397v1M743.5 254v1M1051.5 369v2M293.5 282v1M694.5 217v2M909.5 142v4M672.5 206v3M1154.5 358v3M262.5 308v1M282.5 286v1M40.5 115v2M390.5 313v1M988.5 303v5M248.5 265v3M363.5 337v1M1117.5 390v1M1149.5 378v3M1118.5 391v1M487.5 258v4M856.5 391v1M779.5 287v2M582.5 267v1M655.5 256v2M127.5 217v2M1104.5 348v4M210.5 250v2M57.5 157v4M157.5 245v1M753.5 270v2M953.5 443v2M547.5 286v2M775.5 293v2M1153.5 361v3M131.5 227v3M859.5 385v2M612.5 249v1M24.5 115v3M1053.5 373v1M1148.5 381v3M1180.5 333v3M539.5 272v2M635.5 245v2M811.5 327v2M843.5 396v1M907.5 150v5M1107.5 361v5M227.5 248v1M615.5 244v2M46.5 128v2M205.5 238v2M52.5 143v2M85.5 177v1M1156.5 351v3M564.5 297v1M126.5 214v3M755.5 273v2M955.5 447v1M875.5 338v4M1095.5 341v1M546.5 284v2M549.5 289v2M499.5 288v1M793.5 277v2M500.5 289v2M785.5 278v1M389.5 314v1M1037.5 349v2M306.5 279v1M467.5 233v1M914.5 135v4M870.5 357v4M339.5 312v2M343.5 319v1M118.5 199v2M463.5 240v2M633.5 242v1M372.5 323v1M143.5 234v1M637.5 248v2M241.5 248v1M492.5 275v2M408.5 281v2M317.5 279v1M436.5 235v2M278.5 292v1M47.5 130v2M784.5 279v2M522.5 280v2M735.5 244v1M92.5 174v1M466.5 234v2M424.5 237v2M51.5 140v3M998.5 365v5M170.5 213v3M462.5 242v2M1062.5 386v1M698.5 225v2M664.5 232v3M809.5 321v3M281.5 287v2M764.5 291v2M407.5 283v2M617.5 242v1M1084.5 382v4M525.5 275v2M1137.5 393v1M961.5 432v5M445.5 251v1M1039.5 352v1M1111.5 376v3M226.5 249v1M446.5 252v1M301.5 279v1M341.5 315v2M521.5 282v2M117.5 197v2M120.5 203v2M877.5 330v4M855.5 392v1M686.5 205v1M826.5 364v3M423.5 239v3M654.5 258v1M517.5 289v2M639.5 251v2M830.5 375v2M774.5 295v1M833.5 381v2M243.5 250v1M79.5 184v1M434.5 232v1M621.5 238v1M244.5 251v3M319.5 281v1M177.5 197v1M438.5 238v2M872.5 350v4M199.5 221v3M483.5 245v2M1133.5 390v1M414.5 266v3M737.5 246v1M225.5 250v2M402.5 292v2M520.5 284v1M1060.5 383v1M535.5 269v1M682.5 202v1M160.5 242v1M1064.5 389v1M867.5 368v3M1176.5 342v1M763.5 289v2M42.5 119v2M261.5 306v2M1124.5 389v2M821.5 351v3M911.5 136v3M568.5 292v2M1116.5 389v1M959.5 441v4M825.5 362v2M1078.5 399v1M291.5 284v1M397.5 302v1M1010.5 385v3M866.5 371v2M283.5 285v1M393.5 308v2M527.5 272v2M1131.5 387v1M471.5 228v1M417.5 257v3M332.5 298v2M482.5 242v3M780.5 286v1M740.5 249v2M1052.5 371v2M803.5 304v3M353.5 334v1M354.5 335v2M695.5 219v2M238.5 245v1M256.5 292v2M841.5 394v1M761.5 285v2M813.5 332v2M474.5 228v1M842.5 395v1M1090.5 352v4M783.5 281v1M1044.5 358v2M869.5 361v3M204.5 236v2M162.5 239v2M54.5 148v3M1021.5 351v1M128.5 219v3M708.5 241v1M548.5 288v1M266.5 310v1M458.5 251v2M498.5 287v1M174.5 203v2M741.5 251v1M913.5 134v1M742.5 252v2M1050.5 368v1M355.5 337v1M609.5 253v2M1054.5 374v2M399.5 298v2M808.5 318v3M83.5 179v2M540.5 274v2M1020.5 352v2M636.5 247v1M240.5 247v1M78.5 185v1M620.5 239v1M476.5 231v1M39.5 113v2M49.5 135v2M89.5 171v1M1125.5 388v1M224.5 252v1M90.5 172v1M101.5 181v1M173.5 205v3M689.5 208v2M23.5 118v2M569.5 290v2M53.5 145v3M752.5 269v1M1179.5 336v2M608.5 255v2M756.5 275v2M82.5 181v1M133.5 232v1M1143.5 391v1M1175.5 343v1M863.5 377v2M444.5 250v1M1038.5 351v1M119.5 201v2M1056.5 377v1M538.5 271v1M982.5 284v1M638.5 250v1M526.5 274v1M263.5 309v1M437.5 237v1M1119.5 392v1M652.5 260v1M957.5 450v1M551.5 293v1M1066.5 392v2M1009.5 388v2M614.5 246v1M403.5 291v1M820.5 349v2M345.5 322v1M161.5 241v1M1101.5 340v2M461.5 244v2M663.5 235v2M505.5 293v1M265.5 311v1M334.5 302v2M113.5 191v1M613.5 247v2M731.5 240v1M912.5 135v1M87.5 174v1M292.5 283v1M697.5 223v2M719.5 242v1M411.5 274v2M394.5 307v1M554.5 296v1M427.5 232v1M1042.5 355v2M109.5 188v1M581.5 268v1M641.5 254v1M642.5 255v1M318.5 280v1M280.5 289v1M1031.5 337v1M70.5 186v1M104.5 184v1M681.5 201v1M1022.5 350v1M324.5 285v1M1040.5 353v1M687.5 206v1M688.5 207v1M84.5 178v1M691.5 212v1M630.5 238v1M776.5 292v1M514.5 292v1M286.5 284v1M644.5 257v1M1032.5 339v1M320.5 282v1M618.5 241v1M94.5 176v1M106.5 186v1M683.5 203v1M676.5 200v1M1068.5 395v1M356.5 338v1M1144.5 390v1M1069.5 396v1M605.5 261v1M326.5 288v1M767.5 295v1M768.5 296v1M477.5 232v1M375.5 319v1" fill="none" stroke="#ffa500" stroke-width="1"/>
<rect x="5" y="147" width="1485" height="2" fill="#ff0000"/>
<rect x="5" y="200" width="1485" height="2" fill="#ff0000"/>
<rect x="5" y="251" width="1485" height="2" fill="#ff0000"/>
<rect x="5" y="303" width="1485" height="2" fill="#ff0000"/>
<rect x="5" y="365" width="1485" height="2" fill="#00ff00"/>
<rect x="5" y="421" width="1485" height="2" fill="#0000ff"/>
<rect x="5" y="493" width="1485" height="2" fill="#0000ff"/>
</g>
<g id="paxis">
<rect x="1490" y="37" width="2" height="1" fill="#000"/>
<text x="1495" y="41" font-size="10.2" fill="#000" textLength="33" lengthAdjust="spacingAndGlyphs" stroke="#000" stroke-width="0.2">1.15190</text>
<rect x="1490" y="70" width="2" height="1" fill="#000"/>
<text x="1495" y="74" font-size="10.2" fill="#000" textLength="33" lengthAdjust="spacingAndGlyphs" stroke="#000" stroke-width="0.2">1.14545</text>
<rect x="1490" y="103" width="2" height="1" fill="#000"/>
<text x="1495" y="107" font-size="10.2" fill="#000" textLength="33" lengthAdjust="spacingAndGlyphs" stroke="#000" stroke-width="0.2">1.13915</text>
<rect x="1490" y="136" width="2" height="1" fill="#000"/>
<text x="1495" y="140" font-size="10.2" fill="#000" textLength="33" lengthAdjust="spacingAndGlyphs" stroke="#000" stroke-width="0.2">1.13270</text>
<rect x="1490" y="169" width="2" height="1" fill="#000"/>
<text x="1495" y="173" font-size="10.2" fill="#000" textLength="33" lengthAdjust="spacingAndGlyphs" stroke="#000" stroke-width="0.2">1.12625</text>
<rect x="1490" y="202" width="2" height="1" fill="#000"/>
<text x="1495" y="206" font-size="10.2" fill="#000" textLength="33" lengthAdjust="spacingAndGlyphs" stroke="#000" stroke-width="0.2">1.11980</text>
<rect x="1490" y="235" width="2" height="1" fill="#000"/>
<text x="1495" y="239" font-size="10.2" fill="#000" textLength="33" lengthAdjust="spacingAndGlyphs" stroke="#000" stroke-width="0.2">1.11335</text>
<rect x="1490" y="268" width="2" height="1" fill="#000"/>
<text x="1495" y="272" font-size="10.2" fill="#000" textLength="33" lengthAdjust="spacingAndGlyphs" stroke="#000" stroke-width="0.2">1.10705</text>
<rect x="1490" y="301" width="2" height="1" fill="#000"/>
<text x="1495" y="305" font-size="10.2" fill="#000" textLength="33" lengthAdjust="spacingAndGlyphs" stroke="#000" stroke-width="0.2">1.10060</text>
<rect x="1490" y="334" width="2" height="1" fill="#000"/>
<text x="1495" y="338" font-size="10.2" fill="#000" textLength="33" lengthAdjust="spacingAndGlyphs" stroke="#000" stroke-width="0.2">1.09415</text>
<rect x="1490" y="367" width="2" height="1" fill="#000"/>
<text x="1495" y="371" font-size="10.2" fill="#000" textLength="33" lengthAdjust="spacingAndGlyphs" stroke="#000" stroke-width="0.2">1.08770</text>
<rect x="1490" y="400" width="2" height="1" fill="#000"/>
<text x="1495" y="404" font-size="10.2" fill="#000" textLength="33" lengthAdjust="spacingAndGlyphs" stroke="#000" stroke-width="0.2">1.08125</text>
<rect x="1490" y="433" width="2" height="1" fill="#000"/>
<text x="1495" y="437" font-size="10.2" fill="#000" textLength="33" lengthAdjust="spacingAndGlyphs" stroke="#000" stroke-width="0.2">1.07495</text>
<rect x="1490" y="466" width="2" height="1" fill="#000"/>
<text x="1495" y="470" font-size="10.2" fill="#000" textLength="33" lengthAdjust="spacingAndGlyphs" stroke="#000" stroke-width="0.2">1.06850</text>
<rect x="1490" y="499" width="2" height="1" fill="#000"/>
<text x="1495" y="503" font-size="10.2" fill="#000" textLength="33" lengthAdjust="spacingAndGlyphs" stroke="#000" stroke-width="0.2">1.06205</text>
<rect x="1491" y="291" width="40" height="11" fill="#000"/>
<text x="1495" y="300.5" font-size="10.2" fill="#fff" textLength="33" lengthAdjust="spacingAndGlyphs" stroke="#fff" stroke-width="0.2">1.10160</text>
<rect x="1491" y="142" width="40" height="11" fill="#ff0000"/>
<text x="1495" y="151.5" font-size="10.2" fill="#fff" textLength="33" lengthAdjust="spacingAndGlyphs" stroke="#fff" stroke-width="0.2">1.13034</text>
<rect x="1491" y="195" width="40" height="11" fill="#ff0000"/>
<text x="1495" y="204.5" font-size="10.2" fill="#fff" textLength="33" lengthAdjust="spacingAndGlyphs" stroke="#fff" stroke-width="0.2">1.12004</text>
<rect x="1491" y="246" width="40" height="11" fill="#ff0000"/>
<text x="1495" y="255.5" font-size="10.2" fill="#fff" textLength="33" lengthAdjust="spacingAndGlyphs" stroke="#fff" stroke-width="0.2">1.11009</text>
<rect x="1491" y="298" width="40" height="11" fill="#ff0000"/>
<text x="1495" y="307.5" font-size="10.2" fill="#fff" textLength="33" lengthAdjust="spacingAndGlyphs" stroke="#fff" stroke-width="0.2">1.10008</text>
<rect x="1491" y="360" width="40" height="11" fill="#00ff00"/>
<text x="1495" y="369.5" font-size="10.2" fill="#fff" textLength="33" lengthAdjust="spacingAndGlyphs" stroke="#fff" stroke-width="0.2">1.08800</text>
<rect x="1491" y="416" width="40" height="11" fill="#0000ff"/>
<text x="1495" y="425.5" font-size="10.2" fill="#fff" textLength="33" lengthAdjust="spacingAndGlyphs" stroke="#fff" stroke-width="0.2">1.07697</text>
<rect x="1491" y="488" width="40" height="11" fill="#0000ff"/>
<text x="1495" y="497.5" font-size="10.2" fill="#fff" textLength="33" lengthAdjust="spacingAndGlyphs" stroke="#fff" stroke-width="0.2">1.06306</text>
</g>
<polygon points="8,33 16,33 12,37.5" fill="#000" shape-rendering="auto"/>
<text x="20.5" y="38" font-size="10.2" fill="#000" textLength="63.5" lengthAdjust="spacingAndGlyphs" stroke="#000" stroke-width="0.2">EURUSD,Daily</text>
<text x="90" y="38" font-size="10.2" fill="#000" textLength="32.6" lengthAdjust="spacingAndGlyphs" stroke="#000" stroke-width="0.2">1.09673</text>
<text x="126.6" y="38" font-size="10.2" fill="#000" textLength="32.6" lengthAdjust="spacingAndGlyphs" stroke="#000" stroke-width="0.2">1.10176</text>
<text x="162.6" y="38" font-size="10.2" fill="#000" textLength="32.6" lengthAdjust="spacingAndGlyphs" stroke="#000" stroke-width="0.2">1.09666</text>
<text x="198.5" y="38" font-size="10.2" fill="#000" textLength="32.6" lengthAdjust="spacingAndGlyphs" stroke="#000" stroke-width="0.2">1.10160</text>
<g id="rsi">
<line x1="6" y1="531.5" x2="1489" y2="531.5" stroke="#c0c0c0" stroke-width="1" stroke-dasharray="3 3"/>
<line x1="6" y1="565.5" x2="1489" y2="565.5" stroke="#c0c0c0" stroke-width="1" stroke-dasharray="3 3"/>
<path d="M12 535.5h2M27 535.5h2M427 535.5h3M461 535.5h2M468 535.5h3M608 535.5h2M619 535.5h2M659 535.5h2M122 563.5h2M131 563.5h3M761 563.5h3M801 563.5h3M838 575.5h2M161 546.5h5M181 546.5h2M526 546.5h2M532 546.5h2M723 546.5h2M928 546.5h2M977 546.5h5M1163 546.5h4M65 558.5h4M153 558.5h4M197 558.5h2M202 558.5h10M215 558.5h7M242 558.5h2M489 558.5h5M501 558.5h7M860 558.5h5M120 564.5h2M129 564.5h2M764 564.5h5M804 564.5h3M941 564.5h4M59 556.5h4M237 556.5h3M266 556.5h2M359 556.5h2M495 556.5h2M545 556.5h6M556 556.5h2M957 556.5h2M993 556.5h2M1063 556.5h7M137 560.5h2M143 560.5h2M340 560.5h10M796 560.5h2M851 560.5h7M821 572.5h7M455 539.5h3M613 539.5h2M869 539.5h5M1089 539.5h2M1153 539.5h2M44 548.5h2M84 548.5h3M225 548.5h3M309 548.5h7M585 548.5h5M641 548.5h3M647 548.5h3M694 548.5h2M712 548.5h3M1013 548.5h2M1020 548.5h4M1031 548.5h2M48 550.5h6M73 550.5h7M88 550.5h2M366 550.5h2M372 550.5h6M513 550.5h3M697 550.5h2M707 550.5h3M920 550.5h3M985 550.5h2M1041 550.5h3M1080 550.5h2M1113 550.5h3M1127 550.5h2M95 554.5h2M105 554.5h8M233 554.5h2M271 554.5h4M304 554.5h2M322 554.5h2M332 554.5h2M540 554.5h3M729 554.5h7M738 554.5h2M1057 554.5h3M1071 554.5h2M1105 554.5h5M575 541.5h3M625 541.5h2M1173 541.5h5M42 547.5h2M293 547.5h7M530 547.5h2M644 547.5h3M650 547.5h2M778 547.5h2M1015 547.5h5M1027 547.5h2M1161 547.5h2M1167 547.5h3M283 552.5h2M561 552.5h2M702 552.5h2M785 552.5h2M1008 552.5h2M1053 552.5h2M1075 552.5h3M1101 552.5h2M1130 552.5h2M1136 552.5h5M751 561.5h2M755 561.5h4M849 561.5h2M80 551.5h2M281 551.5h2M370 551.5h2M477 551.5h5M704 551.5h3M1005 551.5h3M1039 551.5h2M1044 551.5h9M1078 551.5h2M1116 551.5h3M615 538.5h2M255 568.5h7M814 568.5h3M434 540.5h2M453 540.5h2M578 540.5h3M687 540.5h3M1091 540.5h2M1151 540.5h2M1155 540.5h2M97 553.5h8M324 553.5h2M537 553.5h3M563 553.5h3M787 553.5h2M989 553.5h2M1055 553.5h2M1073 553.5h2M1103 553.5h2M1120 553.5h2M1134 553.5h2M235 555.5h2M268 555.5h3M275 555.5h2M327 555.5h2M330 555.5h2M485 555.5h2M543 555.5h2M736 555.5h2M995 555.5h8M1060 555.5h3M668 530.5h3M888 530.5h3M139 559.5h4M199 559.5h3M212 559.5h3M337 559.5h3M794 559.5h2M858 559.5h2M57 557.5h2M63 557.5h2M240 557.5h2M288 557.5h2M499 557.5h2M551 557.5h2M554 557.5h2M746 557.5h2M955 557.5h2M46 549.5h2M228 549.5h2M516 549.5h2M634 549.5h2M639 549.5h2M710 549.5h2M715 549.5h2M917 549.5h3M923 549.5h3M1024 549.5h2M1125 549.5h2M891 529.5h2M828 573.5h8M884 525.5h2M117 562.5h2M126 562.5h2M134 562.5h2M351 562.5h2M753 562.5h2M759 562.5h2M799 562.5h2M14 534.5h2M19 534.5h8M425 534.5h2M463 534.5h5M675 534.5h2M174 545.5h2M179 545.5h2M183 545.5h3M441 545.5h5M521 545.5h5M721 545.5h2M965 545.5h2M148 567.5h2M252 567.5h3M811 567.5h3M176 544.5h3M401 544.5h2M446 544.5h2M593 544.5h2M967 544.5h3M393 542.5h6M450 542.5h2M571 542.5h4M601 542.5h2M627 542.5h2M683 542.5h3M971 542.5h2M1148 542.5h2M29 536.5h8M471 536.5h2M416 531.5h6M666 531.5h2M671 531.5h2M807 565.5h2M945 565.5h5M249 566.5h3M809 566.5h2M903 521.5h3M391 543.5h2M399 543.5h2M403 543.5h3M438 543.5h2M448 543.5h2M569 543.5h2M595 543.5h6M681 543.5h2M1146 543.5h2M840 576.5h2M16 533.5h3M662 533.5h2M414 532.5h2M422 532.5h2M664 532.5h2M819 571.5h2M836 574.5h2M843 574.5h2M882 526.5h2M897 523.5h5M53.5 551v1M128.5 563v1M56.5 555v2M631.5 546v1M915.5 541v4M905.5 520v1M497.5 555v1M934.5 556v1M223.5 553v3M592.5 545v1M1029.5 546v1M151.5 562v3M1010.5 551v1M676.5 535v1M113.5 556v1M459.5 537v1M877.5 534v2M770.5 560v2M82.5 550v1M679.5 539v2M291.5 551v3M845.5 571v2M8.5 539v1M158.5 553v3M680.5 541v2M535.5 550v2M964.5 546v2M622.5 535v2M1082.5 547v2M222.5 556v2M1070.5 555v1M307.5 550v2M410.5 536v1M474.5 539v3M37.5 537v2M725.5 547v2M482.5 552v1M781.5 547v1M231.5 552v1M603.5 540v1M896.5 524v1M907.5 524v2M865.5 555v3M1158.5 542v2M960.5 554v1M355.5 560v1M629.5 543v1M292.5 549v2M94.5 555v1M378.5 551v2M846.5 568v3M774.5 552v2M512.5 551v2M116.5 561v1M630.5 544v2M933.5 553v3M390.5 544v1M159.5 550v3M379.5 553v1M413.5 533v1M424.5 533v1M656.5 538v2M937.5 560v1M382.5 553v2M385.5 550v1M728.5 552v2M842.5 575v1M280.5 552v1M508.5 559v1M637.5 551v1M230.5 550v2M473.5 537v2M769.5 562v2M329.5 556v1M55.5 553v2M153.5 559v1M876.5 536v1M173.5 546v1M196.5 557v1M1180.5 538v1M71.5 552v2M963.5 548v2M115.5 559v2M534.5 548v2M880.5 528v2M317.5 550v1M914.5 538v3M789.5 554v1M318.5 551v1M89.5 551v1M686.5 541v1M1157.5 541v1M1112.5 551v1M719.5 547v1M1085.5 543v1M1160.5 545v2M195.5 556v1M1035.5 551v1M1012.5 549v1M784.5 551v1M511.5 553v2M290.5 554v3M848.5 562v3M701.5 553v1M868.5 541v4M1036.5 552v1M10.5 537v1M568.5 544v2M690.5 542v2M777.5 548v1M157.5 556v2M336.5 558v1M932.5 551v2M476.5 546v4M632.5 547v1M487.5 556v1M936.5 558v2M306.5 552v2M1093.5 541v2M633.5 548v1M488.5 557v1M245.5 560v2M187.5 547v1M1172.5 542v1M773.5 554v2M354.5 561v2M188.5 548v1M951.5 561v2M1150.5 541v1M302.5 550v2M335.5 557v1M518.5 548v1M727.5 551v1M895.5 525v1M959.5 555v1M655.5 540v2M658.5 536v1M591.5 546v1M867.5 545v5M1110.5 553v1M458.5 538v1M879.5 530v2M742.5 553v1M54.5 552v1M798.5 561v1M935.5 557v1M567.5 546v3M1030.5 547v1M412.5 534v1M677.5 536v2M1081.5 549v1M696.5 549v1M244.5 559v1M654.5 542v2M381.5 555v1M5.5 542v1M529.5 548v1M320.5 553v2M152.5 560v2M847.5 565v3M407.5 540v1M583.5 545v2M962.5 550v2M817.5 569v1M483.5 553v1M1144.5 545v2M191.5 552v1M232.5 553v1M484.5 554v1M916.5 545v3M1133.5 554v1M1179.5 539v1M689.5 541v1M917.5 548v1M772.5 556v2M844.5 573v1M1095.5 544v2M605.5 538v1M1087.5 541v1M931.5 549v2M950.5 563v1M145.5 561v2M475.5 542v4M494.5 557v1M190.5 550v2M913.5 536v2M319.5 552v1M38.5 539v2M300.5 548v1M726.5 549v2M582.5 543v2M866.5 550v5M361.5 554v2M301.5 549v1M364.5 550v1M875.5 537v1M878.5 532v2M749.5 559v1M992.5 555v1M334.5 555v2M125.5 561v1M887.5 528v2M262.5 564v3M1132.5 553v1M1171.5 543v2M1037.5 553v1M566.5 549v3M692.5 545v2M558.5 555v1M953.5 559v1M653.5 544v2M673.5 532v1M380.5 554v1M520.5 546v1M718.5 548v2M930.5 547v2M938.5 561v1M247.5 563v2M384.5 551v1M790.5 555v1M430.5 536v1M353.5 563v1M991.5 554v1M939.5 562v1M1143.5 547v2M189.5 549v1M1026.5 548v1M912.5 534v2M452.5 541v1M136.5 561v1M224.5 550v3M748.5 558v1M927.5 547v1M886.5 527v1M973.5 541v1M691.5 544v1M440.5 544v1M406.5 541v2M167.5 544v1M387.5 547v1M356.5 559v1M147.5 564v2M744.5 555v1M987.5 551v1M265.5 557v1M1169.5 546v1M1094.5 543v1M894.5 526v2M246.5 562v1M148.5 566v1M285.5 553v1M90.5 552v1M961.5 552v2M1002.5 554v1M91.5 553v1M460.5 536v1M83.5 549v1M565.5 552v1M657.5 537v1M771.5 558v2M303.5 552v1M740.5 553v1M326.5 554v1M607.5 536v1M661.5 534v1M885.5 526v1M7.5 540v1M604.5 539v1M743.5 554v1M368.5 551v1M1123.5 551v1M611.5 537v1M150.5 565v2M70.5 554v2M581.5 541v2M264.5 558v3M584.5 547v1M911.5 532v2M436.5 541v1M193.5 554v1M618.5 536v1M908.5 526v2M782.5 548v2M386.5 548v2M983.5 548v1M975.5 543v2M170.5 543v1M1142.5 549v2M717.5 550v1M279.5 553v1M1096.5 546v1M248.5 565v1M363.5 551v2M40.5 544v2M321.5 555v1M929.5 545v1M146.5 563v1M409.5 537v1M869.5 540v1M1097.5 547v1M610.5 536v1M41.5 546v1M124.5 562v1M93.5 556v1M169.5 542v1M818.5 570v1M192.5 553v1M161.5 547v1M982.5 547v1M750.5 560v1M519.5 547v1M720.5 546v1M477.5 550v1M1086.5 542v1M1004.5 552v1M166.5 545v1M952.5 560v1M693.5 547v1M263.5 561v3M674.5 533v1M431.5 537v1M149.5 568v1M286.5 554v2M602.5 541v1M1084.5 544v1M432.5 538v1M560.5 553v1M287.5 556v1M119.5 563v1M791.5 556v1M92.5 554v2M940.5 563v1M1129.5 551v1M910.5 530v2M792.5 557v1M776.5 549v1M305.5 555v1M1119.5 552v1M389.5 545v1M974.5 542v1M553.5 558v1M358.5 557v1M652.5 546v1M225.5 549v1M69.5 556v2M510.5 555v2M112.5 555v1M902.5 522v1M39.5 541v3M293.5 548v1M1099.5 550v1M1111.5 552v1M1122.5 552v1M160.5 548v2M369.5 552v1M1100.5 551v1M1011.5 550v1M590.5 547v1M780.5 546v1M909.5 528v2M9.5 538v1M606.5 537v1M278.5 554v2M6.5 541v1M1141.5 551v1M408.5 538v2M350.5 561v1M988.5 552v1M745.5 556v1M172.5 545v1M362.5 553v1M1098.5 548v2M1145.5 544v1M624.5 539v2M678.5 538v1M533.5 547v1M617.5 537v1M1088.5 540v1M636.5 550v1M304.5 553v1M168.5 543v1M954.5 558v1M621.5 534v1M411.5 535v1M509.5 557v2M906.5 522v2M1083.5 545v2M194.5 555v1M949.5 564v1M1034.5 550v1M783.5 550v1M970.5 543v1M365.5 549v1M114.5 557v2M775.5 550v2M221.5 559v1M1038.5 552v1M316.5 549v1M536.5 552v1M559.5 554v1M874.5 538v1M612.5 538v1M623.5 537v2M1033.5 549v1M289.5 558v1M1170.5 545v1M437.5 542v1M699.5 551v1M388.5 546v1M638.5 550v1M1003.5 553v1M357.5 558v1M700.5 552v1M984.5 549v1M976.5 545v1M171.5 544v1M308.5 549v1M383.5 552v1M741.5 552v1M498.5 556v1M11.5 536v1M186.5 546v1M261.5 567v1M72.5 551v1M87.5 549v1M433.5 539v1M926.5 548v1M528.5 547v1M1178.5 540v1M277.5 556v1M793.5 558v1M1159.5 544v1M881.5 527v1M1124.5 550v1M893.5 528v1" fill="none" stroke="#1e90ff" stroke-width="1"/>
<text x="9" y="517" font-size="10.2" fill="#000" textLength="68" lengthAdjust="spacingAndGlyphs" stroke="#000" stroke-width="0.2">RSI(14) 62.7032</text>
<rect x="1490" y="506" width="2" height="1" fill="#000"/>
<text x="1493.5" y="515" font-size="10.2" fill="#000" textLength="14.5" lengthAdjust="spacingAndGlyphs" stroke="#000" stroke-width="0.2">100</text>
<rect x="1490" y="531" width="2" height="1" fill="#000"/>
<text x="1493.5" y="535" font-size="10.2" fill="#000" textLength="9.5" lengthAdjust="spacingAndGlyphs" stroke="#000" stroke-width="0.2">70</text>
<rect x="1490" y="565" width="2" height="1" fill="#000"/>
<text x="1493.5" y="569" font-size="10.2" fill="#000" textLength="9.5" lengthAdjust="spacingAndGlyphs" stroke="#000" stroke-width="0.2">30</text>
<rect x="1490" y="590" width="2" height="1" fill="#000"/>
<text x="1493.5" y="588" font-size="10.2" fill="#000" textLength="4.8" lengthAdjust="spacingAndGlyphs" stroke="#000" stroke-width="0.2">0</text>
</g>
<g id="macd">
<rect x="5" y="638" width="1" height="5" fill="#c0c0c0"/>
<rect x="9" y="636" width="1" height="7" fill="#c0c0c0"/>
<rect x="13" y="633" width="1" height="10" fill="#c0c0c0"/>
<rect x="17" y="630" width="1" height="13" fill="#c0c0c0"/>
<rect x="21" y="628" width="1" height="15" fill="#c0c0c0"/>
<rect x="25" y="626" width="1" height="17" fill="#c0c0c0"/>
<rect x="29" y="626" width="1" height="17" fill="#c0c0c0"/>
<rect x="33" y="625" width="1" height="18" fill="#c0c0c0"/>
<rect x="37" y="625" width="1" height="18" fill="#c0c0c0"/>
<rect x="41" y="628" width="1" height="15" fill="#c0c0c0"/>
<rect x="45" y="630" width="1" height="13" fill="#c0c0c0"/>
<rect x="49" y="633" width="1" height="10" fill="#c0c0c0"/>
<rect x="53" y="635" width="1" height="8" fill="#c0c0c0"/>
<rect x="57" y="639" width="1" height="4" fill="#c0c0c0"/>
<rect x="61" y="642" width="1" height="1" fill="#c0c0c0"/>
<rect x="65" y="642" width="1" height="1" fill="#c0c0c0"/>
<rect x="69" y="642" width="1" height="4" fill="#c0c0c0"/>
<rect x="73" y="642" width="1" height="4" fill="#c0c0c0"/>
<rect x="77" y="642" width="1" height="4" fill="#c0c0c0"/>
<rect x="81" y="642" width="1" height="4" fill="#c0c0c0"/>
<rect x="85" y="642" width="1" height="3" fill="#c0c0c0"/>
<rect x="89" y="642" width="1" height="3" fill="#c0c0c0"/>
<rect x="93" y="642" width="1" height="3" fill="#c0c0c0"/>
<rect x="97" y="642" width="1" height="4" fill="#c0c0c0"/>
<rect x="101" y="642" width="1" height="5" fill="#c0c0c0"/>
<rect x="105" y="642" width="1" height="5" fill="#c0c0c0"/>
<rect x="109" y="642" width="1" height="5" fill="#c0c0c0"/>
<rect x="113" y="642" width="1" height="6" fill="#c0c0c0"/>
<rect x="117" y="642" width="1" height="8" fill="#c0c0c0"/>
<rect x="121" y="642" width="1" height="11" fill="#c0c0c0"/>
<rect x="125" y="642" width="1" height="13" fill="#c0c0c0"/>
<rect x="129" y="642" width="1" height="13" fill="#c0c0c0"/>
<rect x="133" y="642" width="1" height="15" fill="#c0c0c0"/>
<rect x="137" y="642" width="1" height="15" fill="#c0c0c0"/>
<rect x="141" y="642" width="1" height="15" fill="#c0c0c0"/>
<rect x="145" y="642" width="1" height="15" fill="#c0c0c0"/>
<rect x="149" y="642" width="1" height="17" fill="#c0c0c0"/>
<rect x="153" y="642" width="1" height="17" fill="#c0c0c0"/>
<rect x="157" y="642" width="1" height="17" fill="#c0c0c0"/>
<rect x="161" y="642" width="1" height="13" fill="#c0c0c0"/>
<rect x="165" y="642" width="1" height="11" fill="#c0c0c0"/>
<rect x="169" y="642" width="1" height="8" fill="#c0c0c0"/>
<rect x="173" y="642" width="1" height="6" fill="#c0c0c0"/>
<rect x="177" y="642" width="1" height="4" fill="#c0c0c0"/>
<rect x="181" y="642" width="1" height="3" fill="#c0c0c0"/>
<rect x="185" y="642" width="1" height="1" fill="#c0c0c0"/>
<rect x="189" y="642" width="1" height="1" fill="#c0c0c0"/>
<rect x="193" y="642" width="1" height="4" fill="#c0c0c0"/>
<rect x="197" y="642" width="1" height="4" fill="#c0c0c0"/>
<rect x="201" y="642" width="1" height="8" fill="#c0c0c0"/>
<rect x="205" y="642" width="1" height="10" fill="#c0c0c0"/>
<rect x="209" y="642" width="1" height="11" fill="#c0c0c0"/>
<rect x="213" y="642" width="1" height="11" fill="#c0c0c0"/>
<rect x="217" y="642" width="1" height="12" fill="#c0c0c0"/>
<rect x="221" y="642" width="1" height="12" fill="#c0c0c0"/>
<rect x="225" y="642" width="1" height="11" fill="#c0c0c0"/>
<rect x="229" y="642" width="1" height="10" fill="#c0c0c0"/>
<rect x="233" y="642" width="1" height="10" fill="#c0c0c0"/>
<rect x="237" y="642" width="1" height="10" fill="#c0c0c0"/>
<rect x="241" y="642" width="1" height="10" fill="#c0c0c0"/>
<rect x="245" y="642" width="1" height="12" fill="#c0c0c0"/>
<rect x="249" y="642" width="1" height="14" fill="#c0c0c0"/>
<rect x="253" y="642" width="1" height="17" fill="#c0c0c0"/>
<rect x="257" y="642" width="1" height="19" fill="#c0c0c0"/>
<rect x="261" y="642" width="1" height="21" fill="#c0c0c0"/>
<rect x="265" y="642" width="1" height="20" fill="#c0c0c0"/>
<rect x="269" y="642" width="1" height="18" fill="#c0c0c0"/>
<rect x="273" y="642" width="1" height="17" fill="#c0c0c0"/>
<rect x="277" y="642" width="1" height="16" fill="#c0c0c0"/>
<rect x="281" y="642" width="1" height="14" fill="#c0c0c0"/>
<rect x="285" y="642" width="1" height="13" fill="#c0c0c0"/>
<rect x="289" y="642" width="1" height="13" fill="#c0c0c0"/>
<rect x="293" y="642" width="1" height="11" fill="#c0c0c0"/>
<rect x="297" y="642" width="1" height="9" fill="#c0c0c0"/>
<rect x="301" y="642" width="1" height="8" fill="#c0c0c0"/>
<rect x="305" y="642" width="1" height="9" fill="#c0c0c0"/>
<rect x="309" y="642" width="1" height="8" fill="#c0c0c0"/>
<rect x="313" y="642" width="1" height="7" fill="#c0c0c0"/>
<rect x="317" y="642" width="1" height="6" fill="#c0c0c0"/>
<rect x="321" y="642" width="1" height="7" fill="#c0c0c0"/>
<rect x="325" y="642" width="1" height="8" fill="#c0c0c0"/>
<rect x="329" y="642" width="1" height="8" fill="#c0c0c0"/>
<rect x="333" y="642" width="1" height="9" fill="#c0c0c0"/>
<rect x="337" y="642" width="1" height="11" fill="#c0c0c0"/>
<rect x="341" y="642" width="1" height="13" fill="#c0c0c0"/>
<rect x="345" y="642" width="1" height="14" fill="#c0c0c0"/>
<rect x="349" y="642" width="1" height="15" fill="#c0c0c0"/>
<rect x="353" y="642" width="1" height="16" fill="#c0c0c0"/>
<rect x="357" y="642" width="1" height="16" fill="#c0c0c0"/>
<rect x="361" y="642" width="1" height="16" fill="#c0c0c0"/>
<rect x="365" y="642" width="1" height="15" fill="#c0c0c0"/>
<rect x="369" y="642" width="1" height="13" fill="#c0c0c0"/>
<rect x="373" y="642" width="1" height="11" fill="#c0c0c0"/>
<rect x="377" y="642" width="1" height="10" fill="#c0c0c0"/>
<rect x="381" y="642" width="1" height="10" fill="#c0c0c0"/>
<rect x="385" y="642" width="1" height="9" fill="#c0c0c0"/>
<rect x="389" y="642" width="1" height="7" fill="#c0c0c0"/>
<rect x="393" y="642" width="1" height="4" fill="#c0c0c0"/>
<rect x="397" y="642" width="1" height="1" fill="#c0c0c0"/>
<rect x="401" y="642" width="1" height="1" fill="#c0c0c0"/>
<rect x="405" y="642" width="1" height="1" fill="#c0c0c0"/>
<rect x="409" y="640" width="1" height="3" fill="#c0c0c0"/>
<rect x="413" y="636" width="1" height="7" fill="#c0c0c0"/>
<rect x="417" y="633" width="1" height="10" fill="#c0c0c0"/>
<rect x="421" y="630" width="1" height="13" fill="#c0c0c0"/>
<rect x="425" y="628" width="1" height="15" fill="#c0c0c0"/>
<rect x="429" y="627" width="1" height="16" fill="#c0c0c0"/>
<rect x="433" y="627" width="1" height="16" fill="#c0c0c0"/>
<rect x="437" y="628" width="1" height="15" fill="#c0c0c0"/>
<rect x="441" y="630" width="1" height="13" fill="#c0c0c0"/>
<rect x="445" y="631" width="1" height="12" fill="#c0c0c0"/>
<rect x="449" y="632" width="1" height="11" fill="#c0c0c0"/>
<rect x="453" y="632" width="1" height="11" fill="#c0c0c0"/>
<rect x="457" y="632" width="1" height="11" fill="#c0c0c0"/>
<rect x="461" y="631" width="1" height="12" fill="#c0c0c0"/>
<rect x="465" y="630" width="1" height="13" fill="#c0c0c0"/>
<rect x="469" y="630" width="1" height="13" fill="#c0c0c0"/>
<rect x="473" y="630" width="1" height="13" fill="#c0c0c0"/>
<rect x="477" y="632" width="1" height="11" fill="#c0c0c0"/>
<rect x="481" y="634" width="1" height="9" fill="#c0c0c0"/>
<rect x="485" y="637" width="1" height="6" fill="#c0c0c0"/>
<rect x="489" y="640" width="1" height="3" fill="#c0c0c0"/>
<rect x="493" y="642" width="1" height="1" fill="#c0c0c0"/>
<rect x="497" y="642" width="1" height="1" fill="#c0c0c0"/>
<rect x="501" y="642" width="1" height="4" fill="#c0c0c0"/>
<rect x="505" y="642" width="1" height="6" fill="#c0c0c0"/>
<rect x="509" y="642" width="1" height="7" fill="#c0c0c0"/>
<rect x="513" y="642" width="1" height="6" fill="#c0c0c0"/>
<rect x="517" y="642" width="1" height="6" fill="#c0c0c0"/>
<rect x="521" y="642" width="1" height="4" fill="#c0c0c0"/>
<rect x="525" y="642" width="1" height="3" fill="#c0c0c0"/>
<rect x="529" y="642" width="1" height="3" fill="#c0c0c0"/>
<rect x="533" y="642" width="1" height="3" fill="#c0c0c0"/>
<rect x="537" y="642" width="1" height="4" fill="#c0c0c0"/>
<rect x="541" y="642" width="1" height="5" fill="#c0c0c0"/>
<rect x="545" y="642" width="1" height="6" fill="#c0c0c0"/>
<rect x="549" y="642" width="1" height="6" fill="#c0c0c0"/>
<rect x="553" y="642" width="1" height="7" fill="#c0c0c0"/>
<rect x="557" y="642" width="1" height="7" fill="#c0c0c0"/>
<rect x="561" y="642" width="1" height="7" fill="#c0c0c0"/>
<rect x="565" y="642" width="1" height="7" fill="#c0c0c0"/>
<rect x="569" y="642" width="1" height="6" fill="#c0c0c0"/>
<rect x="573" y="642" width="1" height="3" fill="#c0c0c0"/>
<rect x="577" y="642" width="1" height="1" fill="#c0c0c0"/>
<rect x="581" y="642" width="1" height="1" fill="#c0c0c0"/>
<rect x="585" y="642" width="1" height="1" fill="#c0c0c0"/>
<rect x="589" y="642" width="1" height="1" fill="#c0c0c0"/>
<rect x="593" y="642" width="1" height="1" fill="#c0c0c0"/>
<rect x="597" y="642" width="1" height="1" fill="#c0c0c0"/>
<rect x="601" y="640" width="1" height="3" fill="#c0c0c0"/>
<rect x="605" y="638" width="1" height="5" fill="#c0c0c0"/>
<rect x="609" y="637" width="1" height="6" fill="#c0c0c0"/>
<rect x="613" y="636" width="1" height="7" fill="#c0c0c0"/>
<rect x="617" y="635" width="1" height="8" fill="#c0c0c0"/>
<rect x="621" y="633" width="1" height="10" fill="#c0c0c0"/>
<rect x="625" y="633" width="1" height="10" fill="#c0c0c0"/>
<rect x="629" y="634" width="1" height="9" fill="#c0c0c0"/>
<rect x="633" y="635" width="1" height="8" fill="#c0c0c0"/>
<rect x="637" y="637" width="1" height="6" fill="#c0c0c0"/>
<rect x="641" y="638" width="1" height="5" fill="#c0c0c0"/>
<rect x="645" y="638" width="1" height="5" fill="#c0c0c0"/>
<rect x="649" y="639" width="1" height="4" fill="#c0c0c0"/>
<rect x="653" y="639" width="1" height="4" fill="#c0c0c0"/>
<rect x="657" y="638" width="1" height="5" fill="#c0c0c0"/>
<rect x="661" y="636" width="1" height="7" fill="#c0c0c0"/>
<rect x="665" y="633" width="1" height="10" fill="#c0c0c0"/>
<rect x="669" y="630" width="1" height="13" fill="#c0c0c0"/>
<rect x="673" y="629" width="1" height="14" fill="#c0c0c0"/>
<rect x="677" y="629" width="1" height="14" fill="#c0c0c0"/>
<rect x="681" y="630" width="1" height="13" fill="#c0c0c0"/>
<rect x="685" y="630" width="1" height="13" fill="#c0c0c0"/>
<rect x="689" y="631" width="1" height="12" fill="#c0c0c0"/>
<rect x="693" y="632" width="1" height="11" fill="#c0c0c0"/>
<rect x="697" y="634" width="1" height="9" fill="#c0c0c0"/>
<rect x="701" y="637" width="1" height="6" fill="#c0c0c0"/>
<rect x="705" y="638" width="1" height="5" fill="#c0c0c0"/>
<rect x="709" y="639" width="1" height="4" fill="#c0c0c0"/>
<rect x="713" y="640" width="1" height="3" fill="#c0c0c0"/>
<rect x="717" y="641" width="1" height="2" fill="#c0c0c0"/>
<rect x="721" y="640" width="1" height="3" fill="#c0c0c0"/>
<rect x="725" y="640" width="1" height="3" fill="#c0c0c0"/>
<rect x="729" y="642" width="1" height="1" fill="#c0c0c0"/>
<rect x="733" y="642" width="1" height="1" fill="#c0c0c0"/>
<rect x="737" y="642" width="1" height="3" fill="#c0c0c0"/>
<rect x="741" y="642" width="1" height="3" fill="#c0c0c0"/>
<rect x="745" y="642" width="1" height="3" fill="#c0c0c0"/>
<rect x="749" y="642" width="1" height="6" fill="#c0c0c0"/>
<rect x="753" y="642" width="1" height="8" fill="#c0c0c0"/>
<rect x="757" y="642" width="1" height="10" fill="#c0c0c0"/>
<rect x="761" y="642" width="1" height="11" fill="#c0c0c0"/>
<rect x="765" y="642" width="1" height="13" fill="#c0c0c0"/>
<rect x="769" y="642" width="1" height="14" fill="#c0c0c0"/>
<rect x="773" y="642" width="1" height="13" fill="#c0c0c0"/>
<rect x="777" y="642" width="1" height="11" fill="#c0c0c0"/>
<rect x="781" y="642" width="1" height="10" fill="#c0c0c0"/>
<rect x="785" y="642" width="1" height="9" fill="#c0c0c0"/>
<rect x="789" y="642" width="1" height="9" fill="#c0c0c0"/>
<rect x="793" y="642" width="1" height="9" fill="#c0c0c0"/>
<rect x="797" y="642" width="1" height="10" fill="#c0c0c0"/>
<rect x="801" y="642" width="1" height="13" fill="#c0c0c0"/>
<rect x="805" y="642" width="1" height="15" fill="#c0c0c0"/>
<rect x="809" y="642" width="1" height="17" fill="#c0c0c0"/>
<rect x="813" y="642" width="1" height="18" fill="#c0c0c0"/>
<rect x="817" y="642" width="1" height="20" fill="#c0c0c0"/>
<rect x="821" y="642" width="1" height="23" fill="#c0c0c0"/>
<rect x="825" y="642" width="1" height="25" fill="#c0c0c0"/>
<rect x="829" y="642" width="1" height="26" fill="#c0c0c0"/>
<rect x="833" y="642" width="1" height="27" fill="#c0c0c0"/>
<rect x="837" y="642" width="1" height="28" fill="#c0c0c0"/>
<rect x="841" y="642" width="1" height="30" fill="#c0c0c0"/>
<rect x="845" y="642" width="1" height="30" fill="#c0c0c0"/>
<rect x="849" y="642" width="1" height="28" fill="#c0c0c0"/>
<rect x="853" y="642" width="1" height="27" fill="#c0c0c0"/>
<rect x="857" y="642" width="1" height="25" fill="#c0c0c0"/>
<rect x="861" y="642" width="1" height="23" fill="#c0c0c0"/>
<rect x="865" y="642" width="1" height="21" fill="#c0c0c0"/>
<rect x="869" y="642" width="1" height="16" fill="#c0c0c0"/>
<rect x="873" y="642" width="1" height="11" fill="#c0c0c0"/>
<rect x="877" y="642" width="1" height="6" fill="#c0c0c0"/>
<rect x="881" y="640" width="1" height="3" fill="#c0c0c0"/>
<rect x="885" y="633" width="1" height="10" fill="#c0c0c0"/>
<rect x="889" y="629" width="1" height="14" fill="#c0c0c0"/>
<rect x="893" y="624" width="1" height="19" fill="#c0c0c0"/>
<rect x="897" y="616" width="1" height="27" fill="#c0c0c0"/>
<rect x="901" y="610" width="1" height="33" fill="#c0c0c0"/>
<rect x="905" y="602" width="1" height="41" fill="#c0c0c0"/>
<rect x="909" y="599" width="1" height="44" fill="#c0c0c0"/>
<rect x="913" y="599" width="1" height="44" fill="#c0c0c0"/>
<rect x="917" y="607" width="1" height="36" fill="#c0c0c0"/>
<rect x="921" y="613" width="1" height="30" fill="#c0c0c0"/>
<rect x="925" y="619" width="1" height="24" fill="#c0c0c0"/>
<rect x="929" y="621" width="1" height="22" fill="#c0c0c0"/>
<rect x="933" y="628" width="1" height="15" fill="#c0c0c0"/>
<rect x="937" y="639" width="1" height="4" fill="#c0c0c0"/>
<rect x="941" y="642" width="1" height="10" fill="#c0c0c0"/>
<rect x="945" y="642" width="1" height="21" fill="#c0c0c0"/>
<rect x="949" y="642" width="1" height="30" fill="#c0c0c0"/>
<rect x="953" y="642" width="1" height="33" fill="#c0c0c0"/>
<rect x="957" y="642" width="1" height="34" fill="#c0c0c0"/>
<rect x="961" y="642" width="1" height="33" fill="#c0c0c0"/>
<rect x="965" y="642" width="1" height="25" fill="#c0c0c0"/>
<rect x="969" y="642" width="1" height="18" fill="#c0c0c0"/>
<rect x="973" y="642" width="1" height="10" fill="#c0c0c0"/>
<rect x="977" y="642" width="1" height="7" fill="#c0c0c0"/>
<rect x="981" y="642" width="1" height="5" fill="#c0c0c0"/>
<rect x="985" y="642" width="1" height="6" fill="#c0c0c0"/>
<rect x="989" y="642" width="1" height="9" fill="#c0c0c0"/>
<rect x="993" y="642" width="1" height="13" fill="#c0c0c0"/>
<rect x="997" y="642" width="1" height="16" fill="#c0c0c0"/>
<rect x="1001" y="642" width="1" height="18" fill="#c0c0c0"/>
<rect x="1005" y="642" width="1" height="17" fill="#c0c0c0"/>
<rect x="1009" y="642" width="1" height="17" fill="#c0c0c0"/>
<rect x="1013" y="642" width="1" height="14" fill="#c0c0c0"/>
<rect x="1017" y="642" width="1" height="11" fill="#c0c0c0"/>
<rect x="1021" y="642" width="1" height="9" fill="#c0c0c0"/>
<rect x="1025" y="642" width="1" height="9" fill="#c0c0c0"/>
<rect x="1029" y="642" width="1" height="6" fill="#c0c0c0"/>
<rect x="1033" y="642" width="1" height="6" fill="#c0c0c0"/>
<rect x="1037" y="642" width="1" height="7" fill="#c0c0c0"/>
<rect x="1041" y="642" width="1" height="7" fill="#c0c0c0"/>
<rect x="1045" y="642" width="1" height="9" fill="#c0c0c0"/>
<rect x="1049" y="642" width="1" height="9" fill="#c0c0c0"/>
<rect x="1053" y="642" width="1" height="9" fill="#c0c0c0"/>
<rect x="1057" y="642" width="1" height="11" fill="#c0c0c0"/>
<rect x="1061" y="642" width="1" height="12" fill="#c0c0c0"/>
<rect x="1065" y="642" width="1" height="14" fill="#c0c0c0"/>
<rect x="1069" y="642" width="1" height="15" fill="#c0c0c0"/>
<rect x="1073" y="642" width="1" height="14" fill="#c0c0c0"/>
<rect x="1077" y="642" width="1" height="14" fill="#c0c0c0"/>
<rect x="1081" y="642" width="1" height="12" fill="#c0c0c0"/>
<rect x="1085" y="642" width="1" height="7" fill="#c0c0c0"/>
<rect x="1089" y="642" width="1" height="1" fill="#c0c0c0"/>
<rect x="1093" y="642" width="1" height="1" fill="#c0c0c0"/>
<rect x="1097" y="642" width="1" height="1" fill="#c0c0c0"/>
<rect x="1101" y="642" width="1" height="1" fill="#c0c0c0"/>
<rect x="1105" y="642" width="1" height="4" fill="#c0c0c0"/>
<rect x="1109" y="642" width="1" height="6" fill="#c0c0c0"/>
<rect x="1113" y="642" width="1" height="5" fill="#c0c0c0"/>
<rect x="1117" y="642" width="1" height="6" fill="#c0c0c0"/>
<rect x="1121" y="642" width="1" height="7" fill="#c0c0c0"/>
<rect x="1125" y="642" width="1" height="6" fill="#c0c0c0"/>
<rect x="1129" y="642" width="1" height="7" fill="#c0c0c0"/>
<rect x="1133" y="642" width="1" height="7" fill="#c0c0c0"/>
<rect x="1137" y="642" width="1" height="7" fill="#c0c0c0"/>
<rect x="1141" y="642" width="1" height="9" fill="#c0c0c0"/>
<rect x="1145" y="642" width="1" height="6" fill="#c0c0c0"/>
<rect x="1149" y="642" width="1" height="1" fill="#c0c0c0"/>
<rect x="1153" y="640" width="1" height="3" fill="#c0c0c0"/>
<rect x="1157" y="638" width="1" height="5" fill="#c0c0c0"/>
<rect x="1161" y="638" width="1" height="5" fill="#c0c0c0"/>
<rect x="1165" y="638" width="1" height="5" fill="#c0c0c0"/>
<rect x="1169" y="639" width="1" height="4" fill="#c0c0c0"/>
<rect x="1173" y="636" width="1" height="7" fill="#c0c0c0"/>
<rect x="1177" y="635" width="1" height="8" fill="#c0c0c0"/>
<rect x="1181" y="632" width="1" height="11" fill="#c0c0c0"/>
<path d="M101 646.5h3M107 646.5h3M113 646.5h3M197 646.5h3M203 646.5h3M209 646.5h2M407 646.5h2M527 646.5h3M533 646.5h2M563 646.5h3M569 646.5h3M575 646.5h3M761 646.5h2M1129 646.5h3M125 649.5h3M221 649.5h2M324 649.5h2M329 649.5h3M335 649.5h2M767 649.5h3M1051 649.5h3M1057 649.5h3M137 652.5h3M179 652.5h3M245 652.5h3M251 652.5h2M353 652.5h2M390 652.5h2M780 652.5h2M785 652.5h3M791 652.5h3M797 652.5h3M803 652.5h3M1003 652.5h3M1069 652.5h3M1075 652.5h3M1087 652.5h3M120 648.5h2M215 648.5h3M402 648.5h2M1100 648.5h2M1141 648.5h3M1147 648.5h3M467 630.5h3M473 630.5h3M479 630.5h3M695 630.5h3M701 630.5h3M23 633.5h2M66 633.5h2M491 633.5h3M677 633.5h3M149 655.5h3M173 655.5h2M300 655.5h2M365 655.5h3M377 655.5h3M992 655.5h2M1015 655.5h3M1021 655.5h3M84 642.5h2M599 642.5h3M743 642.5h3M617 638.5h3M132 651.5h2M227 651.5h3M233 651.5h3M239 651.5h2M312 651.5h2M317 651.5h3M347 651.5h3M1039 651.5h3M1093 651.5h2M870 665.5h2M973 665.5h2M35 629.5h2M59 629.5h2M443 629.5h3M449 629.5h3M455 629.5h3M461 629.5h3M156 657.5h2M161 657.5h3M269 657.5h3M293 657.5h3M71 636.5h2M623 636.5h3M659 636.5h3M665 636.5h3M719 636.5h3M510 641.5h2M605 641.5h3M1171 641.5h2M41 627.5h3M47 627.5h3M53 627.5h3M95 645.5h3M521 645.5h3M539 645.5h3M545 645.5h3M551 645.5h3M557 645.5h2M582 645.5h2M755 645.5h3M1111 645.5h3M1117 645.5h3M1123 645.5h3M1159 645.5h2M683 632.5h3M707 632.5h3M852 668.5h2M857 668.5h3M839 664.5h3M629 635.5h3M647 635.5h3M653 635.5h3M671 635.5h3M275 658.5h3M281 658.5h3M287 658.5h3M77 639.5h2M611 639.5h3M731 639.5h3M863 667.5h3M90 644.5h2M516 644.5h2M587 644.5h3M167 656.5h3M264 656.5h2M371 656.5h3M821 656.5h2M967 662.5h2M5 634.5h3M11 634.5h3M17 634.5h3M431 634.5h2M497 634.5h2M635 634.5h3M641 634.5h3M713 634.5h3M425 637.5h2M503 637.5h2M725 637.5h3M185 650.5h2M341 650.5h2M396 650.5h2M773 650.5h3M1045 650.5h3M1063 650.5h2M419 640.5h2M737 640.5h3M257 653.5h2M306 653.5h2M809 653.5h3M997 653.5h3M1009 653.5h3M1033 653.5h2M1081 653.5h3M144 654.5h2M359 654.5h2M384 654.5h2M815 654.5h2M1027 654.5h3M845 666.5h3M191 647.5h3M1105 647.5h2M1135 647.5h3M1153 647.5h2M920 610.5h2M931 610.5h2M414 643.5h2M593 643.5h3M749 643.5h3M1165 643.5h2M925 609.5h3M29 631.5h2M437 631.5h2M485 631.5h3M689 631.5h3M833 661.5h2M979 663.5h2M827 659.5h2M919.5 611v1M187.5 649v1M31.5 630v1M958.5 650v2M951.5 638v1M882.5 657v1M337.5 650v1M883.5 656v1M61.5 630v1M241.5 652v1M948.5 633v1M1065.5 651v1M987.5 658v1M311.5 652v1M829.5 660v1M211.5 647v1M897.5 639v2M944.5 626v1M952.5 639v2M439.5 630v1M963.5 657v1M941.5 620v1M175.5 654v1M361.5 655v1M65.5 632v1M559.5 646v1M905.5 626v2M1107.5 646v1M131.5 650v1M1161.5 644v1M939.5 616v1M901.5 632v2M904.5 628v1M942.5 621v2M1155.5 646v1M893.5 645v2M155.5 656v1M25.5 632v1M835.5 662v1M851.5 667v1M355.5 653v1M89.5 643v1M933.5 611v1M962.5 656v1M409.5 645v1M263.5 655v1M877.5 661v1M898.5 638v1M869.5 666v1M509.5 640v1M986.5 659v1M875.5 663v1M1035.5 652v1M876.5 662v1M253.5 653v1M323.5 650v1M881.5 658v1M305.5 654v1M1177.5 638v1M985.5 660v1M389.5 653v1M955.5 645v2M421.5 639v1M383.5 655v1M79.5 640v1M964.5 658v1M1095.5 650v1M427.5 636v1M505.5 638v1M959.5 652v1M223.5 650v1M535.5 645v1M779.5 651v1M945.5 627v2M433.5 633v1M1099.5 649v1M343.5 651v1M143.5 653v1M949.5 634v1M73.5 637v1M299.5 656v1M817.5 655v1M499.5 635v1M888.5 651v1M914.5 615v1M83.5 641v1M763.5 647v1M900.5 634v1M413.5 644v1M1173.5 640v1M581.5 646v1M981.5 662v1M910.5 620v1M1167.5 642v1M975.5 664v1M37.5 628v1M954.5 644v1M908.5 622v1M969.5 663v1M909.5 621v1M991.5 656v1M947.5 632v1M894.5 644v1M823.5 657v1M119.5 647v1M259.5 654v1M889.5 650v1M915.5 614v1M937.5 614v1M401.5 649v1M515.5 643v1M395.5 651v1M887.5 652v1M913.5 616v1M938.5 615v1" fill="none" stroke="#ff0000" stroke-width="1"/>
<text x="9" y="606" font-size="10.2" fill="#000" textLength="148" lengthAdjust="spacingAndGlyphs" stroke="#000" stroke-width="0.2">MACD(12,26,9) 0.002589 0.001129</text>
<rect x="1490" y="595" width="2" height="1" fill="#000"/>
<text x="1493.5" y="604" font-size="10.2" fill="#000" textLength="38.5" lengthAdjust="spacingAndGlyphs" stroke="#000" stroke-width="0.2">0.011277</text>
<rect x="1490" y="642" width="2" height="1" fill="#000"/>
<text x="1493.5" y="646" font-size="10.2" fill="#000" textLength="18.5" lengthAdjust="spacingAndGlyphs" stroke="#000" stroke-width="0.2">0.00</text>
<rect x="1490" y="678" width="2" height="1" fill="#000"/>
<text x="1493.5" y="676" font-size="10.2" fill="#000" textLength="40" lengthAdjust="spacingAndGlyphs" stroke="#000" stroke-width="0.2">-0.008845</text>
</g>
<g id="taxis">
<rect x="5" y="680" width="1" height="3" fill="#000"/>
<text x="4.6" y="692" font-size="10.2" fill="#000" textLength="49" lengthAdjust="spacingAndGlyphs" stroke="#000" stroke-width="0.2">20 Jun 2019</text>
<rect x="69" y="680" width="1" height="3" fill="#000"/>
<text x="68.6" y="692" font-size="10.2" fill="#000" textLength="41.3" lengthAdjust="spacingAndGlyphs" stroke="#000" stroke-width="0.2">9 Jul 2019</text>
<rect x="133" y="680" width="1" height="3" fill="#000"/>
<text x="132.6" y="692" font-size="10.2" fill="#000" textLength="46" lengthAdjust="spacingAndGlyphs" stroke="#000" stroke-width="0.2">27 Jul 2019</text>
<rect x="197" y="680" width="1" height="3" fill="#000"/>
<text x="196.6" y="692" font-size="10.2" fill="#000" textLength="52.2" lengthAdjust="spacingAndGlyphs" stroke="#000" stroke-width="0.2">15 Aug 2019</text>
<rect x="261" y="680" width="1" height="3" fill="#000"/>
<text x="260.6" y="692" font-size="10.2" fill="#000" textLength="45.7" lengthAdjust="spacingAndGlyphs" stroke="#000" stroke-width="0.2">3 Sep 2019</text>
<rect x="325" y="680" width="1" height="3" fill="#000"/>
<text x="324.6" y="692" font-size="10.2" fill="#000" textLength="51" lengthAdjust="spacingAndGlyphs" stroke="#000" stroke-width="0.2">21 Sep 2019</text>
<rect x="389" y="680" width="1" height="3" fill="#000"/>
<text x="388.6" y="692" font-size="10.2" fill="#000" textLength="50.2" lengthAdjust="spacingAndGlyphs" stroke="#000" stroke-width="0.2">10 Oct 2019</text>
<rect x="453" y="680" width="1" height="3" fill="#000"/>
<text x="452.6" y="692" font-size="10.2" fill="#000" textLength="50.4" lengthAdjust="spacingAndGlyphs" stroke="#000" stroke-width="0.2">29 Oct 2019</text>
<rect x="517" y="680" width="1" height="3" fill="#000"/>
<text x="516.6" y="692" font-size="10.2" fill="#000" textLength="53" lengthAdjust="spacingAndGlyphs" stroke="#000" stroke-width="0.2">16 Nov 2019</text>
<rect x="581" y="680" width="1" height="3" fill="#000"/>
<text x="580.6" y="692" font-size="10.2" fill="#000" textLength="46.5" lengthAdjust="spacingAndGlyphs" stroke="#000" stroke-width="0.2">5 Dec 2019</text>
<rect x="645" y="680" width="1" height="3" fill="#000"/>
<text x="644.6" y="692" font-size="10.2" fill="#000" textLength="51.2" lengthAdjust="spacingAndGlyphs" stroke="#000" stroke-width="0.2">24 Dec 2019</text>
<rect x="709" y="680" width="1" height="3" fill="#000"/>
<text x="708.6" y="692" font-size="10.2" fill="#000" textLength="48.8" lengthAdjust="spacingAndGlyphs" stroke="#000" stroke-width="0.2">11 Jan 2020</text>
<rect x="773" y="680" width="1" height="3" fill="#000"/>
<text x="772.6" y="692" font-size="10.2" fill="#000" textLength="49.3" lengthAdjust="spacingAndGlyphs" stroke="#000" stroke-width="0.2">30 Jan 2020</text>
<rect x="837" y="680" width="1" height="3" fill="#000"/>
<text x="836.6" y="692" font-size="10.2" fill="#000" textLength="50.8" lengthAdjust="spacingAndGlyphs" stroke="#000" stroke-width="0.2">18 Feb 2020</text>
<rect x="901" y="680" width="1" height="3" fill="#000"/>
<text x="900.6" y="692" font-size="10.2" fill="#000" textLength="47" lengthAdjust="spacingAndGlyphs" stroke="#000" stroke-width="0.2">7 Mar 2020</text>
<rect x="965" y="680" width="1" height="3" fill="#000"/>
<text x="964.6" y="692" font-size="10.2" fill="#000" textLength="51.7" lengthAdjust="spacingAndGlyphs" stroke="#000" stroke-width="0.2">26 Mar 2020</text>
<rect x="1029" y="680" width="1" height="3" fill="#000"/>
<text x="1028.6" y="692" font-size="10.2" fill="#000" textLength="50" lengthAdjust="spacingAndGlyphs" stroke="#000" stroke-width="0.2">14 Apr 2020</text>
<rect x="1093" y="680" width="1" height="3" fill="#000"/>
<text x="1092.6" y="692" font-size="10.2" fill="#000" textLength="48.6" lengthAdjust="spacingAndGlyphs" stroke="#000" stroke-width="0.2">2 May 2020</text>
<rect x="1157" y="680" width="1" height="3" fill="#000"/>
<text x="1156.6" y="692" font-size="10.2" fill="#000" textLength="53.9" lengthAdjust="spacingAndGlyphs" stroke="#000" stroke-width="0.2">21 May 2020</text>
</g>
<g id="tabs">
<rect x="0" y="700" width="1531" height="2" fill="#e3e3e3"/>
<rect x="0" y="702" width="1531" height="23" fill="#f0f0f0"/>
<rect x="0" y="702" width="1531" height="1" fill="#000"/>
<rect x="0" y="721" width="1531" height="2" fill="#fcfcfc"/>
<rect x="0" y="723" width="1531" height="2" fill="#f0f0f0"/>
<rect x="0" y="703" width="2" height="18" fill="#808080"/>
<rect x="6" y="702" width="104" height="19" fill="#000"/>
<rect x="7" y="702" width="102" height="18" fill="#fff"/>
<rect x="110" y="704" width="1" height="18" fill="#a0a0a0"/>
<rect x="8" y="721" width="102" height="1" fill="#a0a0a0"/>
<text x="18.3" y="717" font-size="13" fill="#000" textLength="79.3" lengthAdjust="spacingAndGlyphs">EURUSD,Daily</text>
<text x="120" y="717" font-size="13" fill="#767676" textLength="78" lengthAdjust="spacingAndGlyphs">USDCHF,Daily</text>
<text x="220.8" y="717" font-size="13" fill="#767676" textLength="82" lengthAdjust="spacingAndGlyphs">AUDUSD,Daily</text>
<text x="325.3" y="717" font-size="13" fill="#767676" textLength="81" lengthAdjust="spacingAndGlyphs">USDCAD,Daily</text>
<text x="428.2" y="717" font-size="13" fill="#767676" textLength="83" lengthAdjust="spacingAndGlyphs">USDCNH,Daily</text>
<text x="534" y="717" font-size="13" fill="#767676" textLength="80" lengthAdjust="spacingAndGlyphs">EURUSD,Daily</text>
<text x="638.3" y="717" font-size="13" fill="#767676" textLength="80" lengthAdjust="spacingAndGlyphs">GBPUSD,Daily</text>
<text x="741" y="717" font-size="13" fill="#767676" textLength="70" lengthAdjust="spacingAndGlyphs">XAUUSD,H4</text>
<text x="833.2" y="717" font-size="13" fill="#767676" textLength="50" lengthAdjust="spacingAndGlyphs">HK50,H1</text>
<text x="905.3" y="717" font-size="13" fill="#767676" textLength="57" lengthAdjust="spacingAndGlyphs">UK100,H1</text>
<text x="985.5" y="717" font-size="13" fill="#767676" textLength="57" lengthAdjust="spacingAndGlyphs">UK100,H1</text>
<text x="1065.2" y="717" font-size="13" fill="#767676" textLength="57" lengthAdjust="spacingAndGlyphs">GER30,H1</text>
<text x="1144" y="717" font-size="13" fill="#767676" textLength="55" lengthAdjust="spacingAndGlyphs">FRA40,H1</text>
<text x="1219.8" y="717" font-size="13" fill="#767676" textLength="51" lengthAdjust="spacingAndGlyphs">USOil,H1</text>
<text x="1292.2" y="717" font-size="13" fill="#767676" textLength="63" lengthAdjust="spacingAndGlyphs">USDJPY,H1</text>
<text x="1376" y="717" font-size="13" fill="#767676" textLength="47" lengthAdjust="spacingAndGlyphs">DJ30,H1</text>
<rect x="210" y="705" width="1" height="15" fill="#787878"/>
<rect x="314" y="705" width="1" height="15" fill="#787878"/>
<rect x="418" y="705" width="1" height="15" fill="#787878"/>
<rect x="522" y="705" width="1" height="15" fill="#787878"/>
<rect x="626" y="705" width="1" height="15" fill="#787878"/>
<rect x="730" y="705" width="1" height="15" fill="#787878"/>
<rect x="822" y="705" width="1" height="15" fill="#787878"/>
<rect x="894" y="705" width="1" height="15" fill="#787878"/>
<rect x="974" y="705" width="1" height="15" fill="#787878"/>
<rect x="1054" y="705" width="1" height="15" fill="#787878"/>
<rect x="1134" y="705" width="1" height="15" fill="#787878"/>
<rect x="1210" y="705" width="1" height="15" fill="#787878"/>
<rect x="1282" y="705" width="1" height="15" fill="#787878"/>
<rect x="1366" y="705" width="1" height="15" fill="#787878"/>
<rect x="1434" y="705" width="1" height="15" fill="#787878"/>
<polygon points="1508,707.5 1508,714.5 1504,711" fill="#a0a0a0" shape-rendering="auto"/>
<polygon points="1523.5,707.5 1523.5,714.5 1527.5,711" fill="#a0a0a0" shape-rendering="auto"/>
</g>
</svg></body></html>
